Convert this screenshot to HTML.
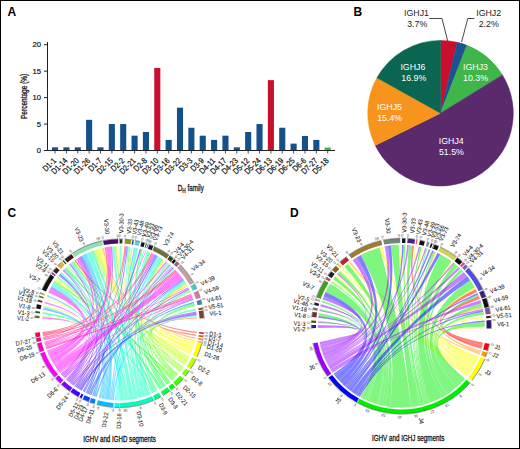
<!DOCTYPE html>
<html><head><meta charset="utf-8"><style>
*{margin:0;padding:0}
html,body{width:520px;height:449px;overflow:hidden;background:#fff}
svg{position:absolute;left:0;top:0}
text{font-family:"Liberation Sans",sans-serif}
.pn{font-weight:bold;font-size:12px;fill:#000}
.xl{font-size:8.3px;fill:#111;stroke:#111;stroke-width:0.22px}
.yl{font-size:7.7px;fill:#111;stroke:#111;stroke-width:0.2px}
.yt{font-size:8.7px;fill:#111;stroke:#111;stroke-width:0.3px}
.xt{font-size:9.2px;fill:#111;stroke:#111;stroke-width:0.3px}
.sub{font-size:7px}
.pl{font-size:8.8px}
.cl{font-size:6.0px;fill:#111;stroke:#111;stroke-width:0.05px}
.ct{font-size:8.8px;fill:#111;stroke:#111;stroke-width:0.3px}
.tk{font-size:3.7px;fill:#333}
</style></head><body><svg width="520" height="449" viewBox="0 0 520 449">
<text x="7.6" y="15.9" class="pn">A</text>
<text x="353.6" y="15.9" class="pn">B</text>
<text x="7.6" y="217.4" class="pn">C</text>
<text x="290" y="217.4" class="pn">D</text>
<rect x="52" y="147.33" width="6.1" height="3.17" fill="#14508a"/>
<line x1="55.05" y1="150.5" x2="55.05" y2="153.5" stroke="#222" stroke-width="0.8"/>
<text transform="translate(56.75,161.3) rotate(-45) scale(0.85,1)" text-anchor="end" class="xl">D1-1</text>
<rect x="63.36" y="147.33" width="6.1" height="3.17" fill="#14508a"/>
<line x1="66.41" y1="150.5" x2="66.41" y2="153.5" stroke="#222" stroke-width="0.8"/>
<text transform="translate(68.11,161.3) rotate(-45) scale(0.85,1)" text-anchor="end" class="xl">D1-14</text>
<rect x="74.72" y="147.33" width="6.1" height="3.17" fill="#14508a"/>
<line x1="77.77" y1="150.5" x2="77.77" y2="153.5" stroke="#222" stroke-width="0.8"/>
<text transform="translate(79.47,161.3) rotate(-45) scale(0.85,1)" text-anchor="end" class="xl">D1-20</text>
<rect x="86.08" y="119.82" width="6.1" height="30.68" fill="#14508a"/>
<line x1="89.13" y1="150.5" x2="89.13" y2="153.5" stroke="#222" stroke-width="0.8"/>
<text transform="translate(90.83,161.3) rotate(-45) scale(0.85,1)" text-anchor="end" class="xl">D1-26</text>
<rect x="97.44" y="147.33" width="6.1" height="3.17" fill="#14508a"/>
<line x1="100.49" y1="150.5" x2="100.49" y2="153.5" stroke="#222" stroke-width="0.8"/>
<text transform="translate(102.19,161.3) rotate(-45) scale(0.85,1)" text-anchor="end" class="xl">D1-7</text>
<rect x="108.8" y="124.05" width="6.1" height="26.45" fill="#14508a"/>
<line x1="111.85" y1="150.5" x2="111.85" y2="153.5" stroke="#222" stroke-width="0.8"/>
<text transform="translate(113.55,161.3) rotate(-45) scale(0.85,1)" text-anchor="end" class="xl">D2-15</text>
<rect x="120.16" y="124.05" width="6.1" height="26.45" fill="#14508a"/>
<line x1="123.21" y1="150.5" x2="123.21" y2="153.5" stroke="#222" stroke-width="0.8"/>
<text transform="translate(124.91,161.3) rotate(-45) scale(0.85,1)" text-anchor="end" class="xl">D2-2</text>
<rect x="131.52" y="135.69" width="6.1" height="14.81" fill="#14508a"/>
<line x1="134.57" y1="150.5" x2="134.57" y2="153.5" stroke="#222" stroke-width="0.8"/>
<text transform="translate(136.27,161.3) rotate(-45) scale(0.85,1)" text-anchor="end" class="xl">D2-21</text>
<rect x="142.88" y="131.99" width="6.1" height="18.52" fill="#14508a"/>
<line x1="145.93" y1="150.5" x2="145.93" y2="153.5" stroke="#222" stroke-width="0.8"/>
<text transform="translate(147.63,161.3) rotate(-45) scale(0.85,1)" text-anchor="end" class="xl">D2-8</text>
<rect x="154.24" y="67.98" width="6.1" height="82.52" fill="#c8102e"/>
<line x1="157.29" y1="150.5" x2="157.29" y2="153.5" stroke="#222" stroke-width="0.8"/>
<text transform="translate(158.99,161.3) rotate(-45) scale(0.85,1)" text-anchor="end" class="xl">D3-10</text>
<rect x="165.6" y="139.92" width="6.1" height="10.58" fill="#14508a"/>
<line x1="168.65" y1="150.5" x2="168.65" y2="153.5" stroke="#222" stroke-width="0.8"/>
<text transform="translate(170.35,161.3) rotate(-45) scale(0.85,1)" text-anchor="end" class="xl">D3-16</text>
<rect x="176.96" y="107.65" width="6.1" height="42.85" fill="#14508a"/>
<line x1="180.01" y1="150.5" x2="180.01" y2="153.5" stroke="#222" stroke-width="0.8"/>
<text transform="translate(181.71,161.3) rotate(-45) scale(0.85,1)" text-anchor="end" class="xl">D3-22</text>
<rect x="188.32" y="127.75" width="6.1" height="22.75" fill="#14508a"/>
<line x1="191.37" y1="150.5" x2="191.37" y2="153.5" stroke="#222" stroke-width="0.8"/>
<text transform="translate(193.07,161.3) rotate(-45) scale(0.85,1)" text-anchor="end" class="xl">D3-3</text>
<rect x="199.68" y="135.69" width="6.1" height="14.81" fill="#14508a"/>
<line x1="202.73" y1="150.5" x2="202.73" y2="153.5" stroke="#222" stroke-width="0.8"/>
<text transform="translate(204.43,161.3) rotate(-45) scale(0.85,1)" text-anchor="end" class="xl">D3-9</text>
<rect x="211.04" y="139.92" width="6.1" height="10.58" fill="#14508a"/>
<line x1="214.09" y1="150.5" x2="214.09" y2="153.5" stroke="#222" stroke-width="0.8"/>
<text transform="translate(215.79,161.3) rotate(-45) scale(0.85,1)" text-anchor="end" class="xl">D4-11</text>
<rect x="222.4" y="135.69" width="6.1" height="14.81" fill="#14508a"/>
<line x1="225.45" y1="150.5" x2="225.45" y2="153.5" stroke="#222" stroke-width="0.8"/>
<text transform="translate(227.15,161.3) rotate(-45) scale(0.85,1)" text-anchor="end" class="xl">D4-17</text>
<rect x="233.76" y="147.33" width="6.1" height="3.17" fill="#14508a"/>
<line x1="236.81" y1="150.5" x2="236.81" y2="153.5" stroke="#222" stroke-width="0.8"/>
<text transform="translate(238.51,161.3) rotate(-45) scale(0.85,1)" text-anchor="end" class="xl">D4-23</text>
<rect x="245.12" y="131.99" width="6.1" height="18.52" fill="#14508a"/>
<line x1="248.17" y1="150.5" x2="248.17" y2="153.5" stroke="#222" stroke-width="0.8"/>
<text transform="translate(249.87,161.3) rotate(-45) scale(0.85,1)" text-anchor="end" class="xl">D5-12</text>
<rect x="256.48" y="124.05" width="6.1" height="26.45" fill="#14508a"/>
<line x1="259.53" y1="150.5" x2="259.53" y2="153.5" stroke="#222" stroke-width="0.8"/>
<text transform="translate(261.23,161.3) rotate(-45) scale(0.85,1)" text-anchor="end" class="xl">D5-24</text>
<rect x="267.84" y="80.14" width="6.1" height="70.36" fill="#c8102e"/>
<line x1="270.89" y1="150.5" x2="270.89" y2="153.5" stroke="#222" stroke-width="0.8"/>
<text transform="translate(272.59,161.3) rotate(-45) scale(0.85,1)" text-anchor="end" class="xl">D6-13</text>
<rect x="279.2" y="127.75" width="6.1" height="22.75" fill="#14508a"/>
<line x1="282.25" y1="150.5" x2="282.25" y2="153.5" stroke="#222" stroke-width="0.8"/>
<text transform="translate(283.95,161.3) rotate(-45) scale(0.85,1)" text-anchor="end" class="xl">D6-19</text>
<rect x="290.56" y="143.62" width="6.1" height="6.88" fill="#14508a"/>
<line x1="293.61" y1="150.5" x2="293.61" y2="153.5" stroke="#222" stroke-width="0.8"/>
<text transform="translate(295.31,161.3) rotate(-45) scale(0.85,1)" text-anchor="end" class="xl">D6-25</text>
<rect x="301.92" y="135.95" width="6.1" height="14.55" fill="#14508a"/>
<line x1="304.97" y1="150.5" x2="304.97" y2="153.5" stroke="#222" stroke-width="0.8"/>
<text transform="translate(306.67,161.3) rotate(-45) scale(0.85,1)" text-anchor="end" class="xl">D6-6</text>
<rect x="313.28" y="139.92" width="6.1" height="10.58" fill="#14508a"/>
<line x1="316.33" y1="150.5" x2="316.33" y2="153.5" stroke="#222" stroke-width="0.8"/>
<text transform="translate(318.03,161.3) rotate(-45) scale(0.85,1)" text-anchor="end" class="xl">D7-27</text>
<rect x="324.64" y="147.59" width="6.1" height="2.91" fill="#3cb54a"/>
<line x1="327.69" y1="150.5" x2="327.69" y2="153.5" stroke="#222" stroke-width="0.8"/>
<text transform="translate(329.39,161.3) rotate(-45) scale(0.85,1)" text-anchor="end" class="xl">D5-18</text>
<line x1="47.5" y1="42" x2="47.5" y2="151.0" stroke="#222" stroke-width="1"/>
<line x1="46.7" y1="150.5" x2="335" y2="150.5" stroke="#222" stroke-width="1"/>
<line x1="44" y1="150.5" x2="47.5" y2="150.5" stroke="#222" stroke-width="1"/>
<text x="41" y="153.2" text-anchor="end" class="yl">0</text>
<line x1="44" y1="124.05" x2="47.5" y2="124.05" stroke="#222" stroke-width="1"/>
<text x="41" y="126.75" text-anchor="end" class="yl">5</text>
<line x1="44" y1="97.6" x2="47.5" y2="97.6" stroke="#222" stroke-width="1"/>
<text x="41" y="100.3" text-anchor="end" class="yl">10</text>
<line x1="44" y1="71.15" x2="47.5" y2="71.15" stroke="#222" stroke-width="1"/>
<text x="41" y="73.85" text-anchor="end" class="yl">15</text>
<line x1="44" y1="44.7" x2="47.5" y2="44.7" stroke="#222" stroke-width="1"/>
<text x="41" y="47.4" text-anchor="end" class="yl">20</text>
<text transform="translate(26.5,96.35) rotate(-90) scale(0.75,1)" text-anchor="middle" class="yt">Percentage (%)</text>
<text transform="translate(177.8,190.7) scale(0.68,1)" class="xt">D<tspan class="sub" dy="1.8">H</tspan><tspan dy="-1.8"> family</tspan></text>
<path d="M440.5,113.2L440.5,40.4A72.8,72.8 0 0 1 457.27,42.36Z" fill="#c8102e" stroke="#c8102e" stroke-width="0.5" stroke-linejoin="round"/>
<path d="M440.5,113.2L457.27,42.36A72.8,72.8 0 0 1 466.87,45.35Z" fill="#1b5290" stroke="#1b5290" stroke-width="0.5" stroke-linejoin="round"/>
<path d="M440.5,113.2L466.87,45.35A72.8,72.8 0 0 1 502.45,74.97Z" fill="#3fb54a" stroke="#3fb54a" stroke-width="0.5" stroke-linejoin="round"/>
<path d="M440.5,113.2L502.45,74.97A72.8,72.8 0 1 1 375.22,145.43Z" fill="#5b2a6c" stroke="#5b2a6c" stroke-width="0.5" stroke-linejoin="round"/>
<path d="M440.5,113.2L375.22,145.43A72.8,72.8 0 0 1 376.93,77.73Z" fill="#f7941d" stroke="#f7941d" stroke-width="0.5" stroke-linejoin="round"/>
<path d="M440.5,113.2L376.93,77.73A72.8,72.8 0 0 1 440.5,40.4Z" fill="#0a6650" stroke="#0a6650" stroke-width="0.5" stroke-linejoin="round"/>
<text x="416.5" y="15.7" text-anchor="middle" class="pl" fill="#222">IGHJ1</text>
<text x="417.2" y="26.5" text-anchor="middle" class="pl" fill="#222">3.7%</text>
<text x="488.7" y="15.7" text-anchor="middle" class="pl" fill="#222">IGHJ2</text>
<text x="488.7" y="26.5" text-anchor="middle" class="pl" fill="#222">2.2%</text>
<text x="412.9" y="70" text-anchor="middle" class="pl" fill="#fff">IGHJ6</text>
<text x="413.8" y="80.5" text-anchor="middle" class="pl" fill="#fff">16.9%</text>
<text x="475.5" y="70" text-anchor="middle" class="pl" fill="#fff">IGHJ3</text>
<text x="475.5" y="80.5" text-anchor="middle" class="pl" fill="#fff">10.3%</text>
<text x="389.5" y="110" text-anchor="middle" class="pl" fill="#fff">IGHJ5</text>
<text x="389.7" y="120.5" text-anchor="middle" class="pl" fill="#fff">15.4%</text>
<text x="451.3" y="143.8" text-anchor="middle" class="pl" fill="#fff">IGHJ4</text>
<text x="451.4" y="155" text-anchor="middle" class="pl" fill="#fff">51.5%</text>
<polyline points="429.3,18.5 442,18.5 447.7,41" fill="none" stroke="#333" stroke-width="0.9"/>
<polyline points="474.3,18.5 467.8,18.5 461.6,42" fill="none" stroke="#333" stroke-width="0.9"/>
<g fill-opacity="0.5" stroke="#fff" stroke-width="0.25" stroke-opacity="0.25">
<path d="M74.35,260.52A77.59,77.2 0 0 1 75.44,259.75Q119.5,323.3 196.62,331.77A77.59,77.2 0 0 1 196.46,333.11Q119.5,323.3 74.35,260.52Z" fill="#FF0000"/>
<path d="M196.86,317.4A77.59,77.2 0 0 1 196.94,318.59Q119.5,323.3 196.25,334.58A77.59,77.2 0 0 1 196.02,336.04Q119.5,323.3 196.86,317.4Z" fill="#FF4000"/>
<path d="M102.23,248.04A77.59,77.2 0 0 1 103.5,247.76Q119.5,323.3 195.76,337.5A77.59,77.2 0 0 1 195.47,338.96Q119.5,323.3 102.23,248.04Z" fill="#FF8000"/>
<path d="M186.91,285.09A77.59,77.2 0 0 1 187.55,286.23Q119.5,323.3 195.22,340.14A77.59,77.2 0 0 1 194.88,341.58Q119.5,323.3 186.91,285.09Z" fill="#FFBF00"/>
<path d="M45.75,299.32A77.59,77.2 0 0 1 46.23,297.91Q119.5,323.3 191.11,353.02A77.59,77.2 0 0 1 190.6,354.21Q119.5,323.3 45.75,299.32Z" fill="#FFFF00"/>
<path d="M54.92,280.52A77.59,77.2 0 0 1 56.34,278.47Q119.5,323.3 192.07,350.61A77.59,77.2 0 0 1 191.11,353.02Q119.5,323.3 54.92,280.52Z" fill="#FFFF00"/>
<path d="M98.45,249A77.59,77.2 0 0 1 102.23,248.04Q119.5,323.3 193.36,346.95A77.59,77.2 0 0 1 192.07,350.61Q119.5,323.3 98.45,249Z" fill="#FFFF00"/>
<path d="M117.01,246.14A77.59,77.2 0 0 1 118.28,246.11Q119.5,323.3 193.74,345.72A77.59,77.2 0 0 1 193.36,346.95Q119.5,323.3 117.01,246.14Z" fill="#FFFF00"/>
<path d="M163.92,260A77.59,77.2 0 0 1 164.99,260.76Q119.5,323.3 194.11,344.48A77.59,77.2 0 0 1 193.74,345.72Q119.5,323.3 163.92,260Z" fill="#FFFF00"/>
<path d="M186.26,283.96A77.59,77.2 0 0 1 186.91,285.09Q119.5,323.3 194.46,343.23A77.59,77.2 0 0 1 194.11,344.48Q119.5,323.3 186.26,283.96Z" fill="#FFFF00"/>
<path d="M196.76,316.21A77.59,77.2 0 0 1 196.86,317.4Q119.5,323.3 194.78,341.98A77.59,77.2 0 0 1 194.46,343.23Q119.5,323.3 196.76,316.21Z" fill="#FFFF00"/>
<path d="M43.65,307.07A77.59,77.2 0 0 1 43.93,305.8Q119.5,323.3 185.4,364.04A77.59,77.2 0 0 1 184.72,365.12Q119.5,323.3 43.65,307.07Z" fill="#BFFF00"/>
<path d="M73.28,261.3A77.59,77.2 0 0 1 74.35,260.52Q119.5,323.3 186.07,362.95A77.59,77.2 0 0 1 185.4,364.04Q119.5,323.3 73.28,261.3Z" fill="#BFFF00"/>
<path d="M94.72,250.14A77.59,77.2 0 0 1 98.45,249Q119.5,323.3 187.97,359.6A77.59,77.2 0 0 1 186.07,362.95Q119.5,323.3 94.72,250.14Z" fill="#BFFF00"/>
<path d="M115.75,246.19A77.59,77.2 0 0 1 117.01,246.14Q119.5,323.3 188.57,358.47A77.59,77.2 0 0 1 187.97,359.6Q119.5,323.3 115.75,246.19Z" fill="#BFFF00"/>
<path d="M120.85,246.11A77.59,77.2 0 0 1 122.21,246.15Q119.5,323.3 189.14,357.32A77.59,77.2 0 0 1 188.57,358.47Q119.5,323.3 120.85,246.11Z" fill="#BFFF00"/>
<path d="M162.83,259.26A77.59,77.2 0 0 1 163.92,260Q119.5,323.3 189.7,356.17A77.59,77.2 0 0 1 189.14,357.32Q119.5,323.3 162.83,259.26Z" fill="#BFFF00"/>
<path d="M67.18,266.29A77.59,77.2 0 0 1 68.19,265.39Q119.5,323.3 180.76,370.67A77.59,77.2 0 0 1 179.8,371.88Q119.5,323.3 67.18,266.29Z" fill="#80FF00"/>
<path d="M93.49,250.57A77.59,77.2 0 0 1 94.72,250.14Q119.5,323.3 181.71,369.44A77.59,77.2 0 0 1 180.76,370.67Q119.5,323.3 93.49,250.57Z" fill="#80FF00"/>
<path d="M131.24,246.99A77.59,77.2 0 0 1 132.71,247.23Q119.5,323.3 182.62,368.19A77.59,77.2 0 0 1 181.71,369.44Q119.5,323.3 131.24,246.99Z" fill="#80FF00"/>
<path d="M167.97,263.02A77.59,77.2 0 0 1 169.06,263.9Q119.5,323.3 183.52,366.92A77.59,77.2 0 0 1 182.62,368.19Q119.5,323.3 167.97,263.02Z" fill="#80FF00"/>
<path d="M42.15,317.31A77.59,77.2 0 0 1 42.25,316.17Q119.5,323.3 172.41,379.76A77.59,77.2 0 0 1 171.42,380.67Q119.5,323.3 42.15,317.31Z" fill="#40FF00"/>
<path d="M53.57,282.61A77.59,77.2 0 0 1 54.92,280.52Q119.5,323.3 174.36,377.89A77.59,77.2 0 0 1 172.41,379.76Q119.5,323.3 53.57,282.61Z" fill="#40FF00"/>
<path d="M114.48,246.26A77.59,77.2 0 0 1 115.75,246.19Q119.5,323.3 175.31,376.93A77.59,77.2 0 0 1 174.36,377.89Q119.5,323.3 114.48,246.26Z" fill="#40FF00"/>
<path d="M129.12,246.7A77.59,77.2 0 0 1 130.3,246.85Q119.5,323.3 176.24,375.95A77.59,77.2 0 0 1 175.31,376.93Q119.5,323.3 129.12,246.7Z" fill="#40FF00"/>
<path d="M185.58,282.84A77.59,77.2 0 0 1 186.26,283.96Q119.5,323.3 177.16,374.96A77.59,77.2 0 0 1 176.24,375.95Q119.5,323.3 185.58,282.84Z" fill="#40FF00"/>
<path d="M189.83,290.7A77.59,77.2 0 0 1 190.38,291.9Q119.5,323.3 178.05,373.95A77.59,77.2 0 0 1 177.16,374.96Q119.5,323.3 189.83,290.7Z" fill="#40FF00"/>
<path d="M72.21,262.09A77.59,77.2 0 0 1 73.28,261.3Q119.5,323.3 168.12,383.46A77.59,77.2 0 0 1 166.95,384.38Q119.5,323.3 72.21,262.09Z" fill="#00FF00"/>
<path d="M141.21,249.18A77.59,77.2 0 0 1 142.7,249.63Q119.5,323.3 169.27,382.53A77.59,77.2 0 0 1 168.12,383.46Q119.5,323.3 141.21,249.18Z" fill="#00FF00"/>
<path d="M194.75,304.49A77.59,77.2 0 0 1 195.1,305.93Q119.5,323.3 170.4,381.56A77.59,77.2 0 0 1 169.27,382.53Q119.5,323.3 194.75,304.49Z" fill="#00FF00"/>
<path d="M64.54,268.81A77.59,77.2 0 0 1 66.49,266.93Q119.5,323.3 162.07,387.84A77.59,77.2 0 0 1 159.46,389.47Q119.5,323.3 64.54,268.81Z" fill="#00FF40"/>
<path d="M149.36,252.05A77.59,77.2 0 0 1 150.56,252.56Q119.5,323.3 163.36,386.98A77.59,77.2 0 0 1 162.07,387.84Q119.5,323.3 149.36,252.05Z" fill="#00FF40"/>
<path d="M161.73,258.54A77.59,77.2 0 0 1 162.83,259.26Q119.5,323.3 164.62,386.1A77.59,77.2 0 0 1 163.36,386.98Q119.5,323.3 161.73,258.54Z" fill="#00FF40"/>
<path d="M194.37,303.06A77.59,77.2 0 0 1 194.75,304.49Q119.5,323.3 165.87,385.2A77.59,77.2 0 0 1 164.62,386.1Q119.5,323.3 194.37,303.06Z" fill="#00FF40"/>
<path d="M42.49,313.89A77.59,77.2 0 0 1 42.75,312.02Q119.5,323.3 153.07,392.9A77.59,77.2 0 0 1 151.92,393.44Q119.5,323.3 42.49,313.89Z" fill="#00FF80"/>
<path d="M91.05,251.48A77.59,77.2 0 0 1 93.49,250.57Q119.5,323.3 155.35,391.76A77.59,77.2 0 0 1 153.07,392.9Q119.5,323.3 91.05,251.48Z" fill="#00FF80"/>
<path d="M148.15,251.55A77.59,77.2 0 0 1 149.36,252.05Q119.5,323.3 156.47,391.17A77.59,77.2 0 0 1 155.35,391.76Q119.5,323.3 148.15,251.55Z" fill="#00FF80"/>
<path d="M195.69,308.7A77.59,77.2 0 0 1 196.02,310.56Q119.5,323.3 157.59,390.56A77.59,77.2 0 0 1 156.47,391.17Q119.5,323.3 195.69,308.7Z" fill="#00FF80"/>
<path d="M51.67,285.83A77.59,77.2 0 0 1 53.57,282.61Q119.5,323.3 124.02,400.37A77.59,77.2 0 0 1 120.04,400.5Q119.5,323.3 51.67,285.83Z" fill="#00FFBF"/>
<path d="M56.89,277.71A77.59,77.2 0 0 1 57.86,276.41Q119.5,323.3 125.34,400.28A77.59,77.2 0 0 1 124.02,400.37Q119.5,323.3 56.89,277.71Z" fill="#00FFBF"/>
<path d="M60.02,273.73A77.59,77.2 0 0 1 61.57,271.94Q119.5,323.3 127.98,400.04A77.59,77.2 0 0 1 125.34,400.28Q119.5,323.3 60.02,273.73Z" fill="#00FFBF"/>
<path d="M71.17,262.91A77.59,77.2 0 0 1 72.21,262.09Q119.5,323.3 129.3,399.88A77.59,77.2 0 0 1 127.98,400.04Q119.5,323.3 71.17,262.91Z" fill="#00FFBF"/>
<path d="M86.28,253.53A77.59,77.2 0 0 1 91.05,251.48Q119.5,323.3 134.53,399.04A77.59,77.2 0 0 1 129.3,399.88Q119.5,323.3 86.28,253.53Z" fill="#00FFBF"/>
<path d="M111.95,246.47A77.59,77.2 0 0 1 114.48,246.26Q119.5,323.3 137.12,398.48A77.59,77.2 0 0 1 134.53,399.04Q119.5,323.3 111.95,246.47Z" fill="#00FFBF"/>
<path d="M119.5,246.1A77.59,77.2 0 0 1 120.85,246.11Q119.5,323.3 138.41,398.17A77.59,77.2 0 0 1 137.12,398.48Q119.5,323.3 119.5,246.1Z" fill="#00FFBF"/>
<path d="M127.93,246.56A77.59,77.2 0 0 1 129.12,246.7Q119.5,323.3 139.7,397.84A77.59,77.2 0 0 1 138.41,398.17Q119.5,323.3 127.93,246.56Z" fill="#00FFBF"/>
<path d="M135.37,247.73A77.59,77.2 0 0 1 138.27,248.39Q119.5,323.3 142.24,397.11A77.59,77.2 0 0 1 139.7,397.84Q119.5,323.3 135.37,247.73Z" fill="#00FFBF"/>
<path d="M143.73,249.96A77.59,77.2 0 0 1 144.76,250.31Q119.5,323.3 143.51,396.71A77.59,77.2 0 0 1 142.24,397.11Q119.5,323.3 143.73,249.96Z" fill="#00FFBF"/>
<path d="M159.49,257.14A77.59,77.2 0 0 1 161.73,258.54Q119.5,323.3 146.01,395.85A77.59,77.2 0 0 1 143.51,396.71Q119.5,323.3 159.49,257.14Z" fill="#00FFBF"/>
<path d="M173.65,268.02A77.59,77.2 0 0 1 174.46,268.81Q119.5,323.3 147.26,395.39A77.59,77.2 0 0 1 146.01,395.85Q119.5,323.3 173.65,268.02Z" fill="#00FFBF"/>
<path d="M184.17,280.64A77.59,77.2 0 0 1 185.58,282.84Q119.5,323.3 149.72,394.4A77.59,77.2 0 0 1 147.26,395.39Q119.5,323.3 184.17,280.64Z" fill="#00FFBF"/>
<path d="M189.26,289.52A77.59,77.2 0 0 1 189.83,290.7Q119.5,323.3 150.93,393.88A77.59,77.2 0 0 1 149.72,394.4Q119.5,323.3 189.26,289.52Z" fill="#00FFBF"/>
<path d="M146.92,251.08A77.59,77.2 0 0 1 148.15,251.55Q119.5,323.3 116.05,400.42A77.59,77.2 0 0 1 114.9,400.36Q119.5,323.3 146.92,251.08Z" fill="#00FFFF"/>
<path d="M158.35,256.48A77.59,77.2 0 0 1 159.49,257.14Q119.5,323.3 117.2,400.47A77.59,77.2 0 0 1 116.05,400.42Q119.5,323.3 158.35,256.48Z" fill="#00FFFF"/>
<path d="M166.87,262.16A77.59,77.2 0 0 1 167.97,263.02Q119.5,323.3 118.35,400.49A77.59,77.2 0 0 1 117.2,400.47Q119.5,323.3 166.87,262.16Z" fill="#00FFFF"/>
<path d="M170.5,265.12A77.59,77.2 0 0 1 171.42,265.93Q119.5,323.3 119.5,400.5A77.59,77.2 0 0 1 118.35,400.49Q119.5,323.3 170.5,265.12Z" fill="#00FFFF"/>
<path d="M43.38,308.35A77.59,77.2 0 0 1 43.65,307.07Q119.5,323.3 99.99,398.02A77.59,77.2 0 0 1 98.64,397.66Q119.5,323.3 43.38,308.35Z" fill="#00BFFF"/>
<path d="M46.78,296.39A77.59,77.2 0 0 1 47.31,295.01Q119.5,323.3 101.35,398.36A77.59,77.2 0 0 1 99.99,398.02Q119.5,323.3 46.78,296.39Z" fill="#00BFFF"/>
<path d="M51.07,286.92A77.59,77.2 0 0 1 51.67,285.83Q119.5,323.3 102.72,398.67A77.59,77.2 0 0 1 101.35,398.36Q119.5,323.3 51.07,286.92Z" fill="#00BFFF"/>
<path d="M63.6,269.77A77.59,77.2 0 0 1 64.54,268.81Q119.5,323.3 104.09,398.96A77.59,77.2 0 0 1 102.72,398.67Q119.5,323.3 63.6,269.77Z" fill="#00BFFF"/>
<path d="M70.13,263.74A77.59,77.2 0 0 1 71.17,262.91Q119.5,323.3 105.47,399.23A77.59,77.2 0 0 1 104.09,398.96Q119.5,323.3 70.13,263.74Z" fill="#00BFFF"/>
<path d="M82.8,255.29A77.59,77.2 0 0 1 86.28,253.53Q119.5,323.3 109.63,399.87A77.59,77.2 0 0 1 105.47,399.23Q119.5,323.3 82.8,255.29Z" fill="#00BFFF"/>
<path d="M133.91,247.44A77.59,77.2 0 0 1 135.37,247.73Q119.5,323.3 111.02,400.04A77.59,77.2 0 0 1 109.63,399.87Q119.5,323.3 133.91,247.44Z" fill="#00BFFF"/>
<path d="M157.2,255.83A77.59,77.2 0 0 1 158.35,256.48Q119.5,323.3 112.42,400.18A77.59,77.2 0 0 1 111.02,400.04Q119.5,323.3 157.2,255.83Z" fill="#00BFFF"/>
<path d="M196.64,315.03A77.59,77.2 0 0 1 196.76,316.21Q119.5,323.3 113.82,400.29A77.59,77.2 0 0 1 112.42,400.18Q119.5,323.3 196.64,315.03Z" fill="#00BFFF"/>
<path d="M43.14,309.63A77.59,77.2 0 0 1 43.38,308.35Q119.5,323.3 93.56,396.06A77.59,77.2 0 0 1 92.08,395.52Q119.5,323.3 43.14,309.63Z" fill="#0080FF"/>
<path d="M81.65,255.91A77.59,77.2 0 0 1 82.8,255.29Q119.5,323.3 95.05,396.57A77.59,77.2 0 0 1 93.56,396.06Q119.5,323.3 81.65,255.91Z" fill="#0080FF"/>
<path d="M183.43,279.56A77.59,77.2 0 0 1 184.17,280.64Q119.5,323.3 96.56,397.05A77.59,77.2 0 0 1 95.05,396.57Q119.5,323.3 183.43,279.56Z" fill="#0080FF"/>
<path d="M80.52,256.55A77.59,77.2 0 0 1 81.65,255.91Q119.5,323.3 87.11,393.45A77.59,77.2 0 0 1 85.73,392.8Q119.5,323.3 80.52,256.55Z" fill="#0040FF"/>
<path d="M126.75,246.44A77.59,77.2 0 0 1 127.93,246.56Q119.5,323.3 88.5,394.07A77.59,77.2 0 0 1 87.11,393.45Q119.5,323.3 126.75,246.44Z" fill="#0040FF"/>
<path d="M193.07,298.78A77.59,77.2 0 0 1 193.5,300.09Q119.5,323.3 89.9,394.66A77.59,77.2 0 0 1 88.5,394.07Q119.5,323.3 193.07,298.78Z" fill="#0040FF"/>
<path d="M193.97,301.63A77.59,77.2 0 0 1 194.37,303.06Q119.5,323.3 91.32,395.23A77.59,77.2 0 0 1 89.9,394.66Q119.5,323.3 193.97,301.63Z" fill="#0040FF"/>
<path d="M59.27,274.64A77.59,77.2 0 0 1 60.02,273.73Q119.5,323.3 83.73,391.81A77.59,77.2 0 0 1 82.84,391.34Q119.5,323.3 59.27,274.64Z" fill="#0000FF"/>
<path d="M156.04,255.2A77.59,77.2 0 0 1 157.2,255.83Q119.5,323.3 84.64,392.27A77.59,77.2 0 0 1 83.73,391.81Q119.5,323.3 156.04,255.2Z" fill="#0000FF"/>
<path d="M79.4,257.21A77.59,77.2 0 0 1 80.52,256.55Q119.5,323.3 75.72,387.04A77.59,77.2 0 0 1 74.56,386.23Q119.5,323.3 79.4,257.21Z" fill="#4000FF"/>
<path d="M139.71,248.77A77.59,77.2 0 0 1 141.21,249.18Q119.5,323.3 76.9,387.82A77.59,77.2 0 0 1 75.72,387.04Q119.5,323.3 139.71,248.77Z" fill="#4000FF"/>
<path d="M172.84,267.24A77.59,77.2 0 0 1 173.65,268.02Q119.5,323.3 78.1,388.59A77.59,77.2 0 0 1 76.9,387.82Q119.5,323.3 172.84,267.24Z" fill="#4000FF"/>
<path d="M182.68,278.49A77.59,77.2 0 0 1 183.43,279.56Q119.5,323.3 79.31,389.33A77.59,77.2 0 0 1 78.1,388.59Q119.5,323.3 182.68,278.49Z" fill="#4000FF"/>
<path d="M196.35,312.67A77.59,77.2 0 0 1 196.64,315.03Q119.5,323.3 81.77,390.76A77.59,77.2 0 0 1 79.31,389.33Q119.5,323.3 196.35,312.67Z" fill="#4000FF"/>
<path d="M50.49,288.02A77.59,77.2 0 0 1 51.07,286.92Q119.5,323.3 67.02,380.16A77.59,77.2 0 0 1 66.09,379.3Q119.5,323.3 50.49,288.02Z" fill="#8000FF"/>
<path d="M58.53,275.56A77.59,77.2 0 0 1 59.27,274.64Q119.5,323.3 67.96,381.01A77.59,77.2 0 0 1 67.02,380.16Q119.5,323.3 58.53,275.56Z" fill="#8000FF"/>
<path d="M69.11,264.6A77.59,77.2 0 0 1 70.13,263.74Q119.5,323.3 68.92,381.84A77.59,77.2 0 0 1 67.96,381.01Q119.5,323.3 69.11,264.6Z" fill="#8000FF"/>
<path d="M78.3,257.89A77.59,77.2 0 0 1 79.4,257.21Q119.5,323.3 69.89,382.65A77.59,77.2 0 0 1 68.92,381.84Q119.5,323.3 78.3,257.89Z" fill="#8000FF"/>
<path d="M110.69,246.6A77.59,77.2 0 0 1 111.95,246.47Q119.5,323.3 70.87,383.45A77.59,77.2 0 0 1 69.89,382.65Q119.5,323.3 110.69,246.6Z" fill="#8000FF"/>
<path d="M154.87,254.59A77.59,77.2 0 0 1 156.04,255.2Q119.5,323.3 71.87,384.24A77.59,77.2 0 0 1 70.87,383.45Q119.5,323.3 154.87,254.59Z" fill="#8000FF"/>
<path d="M188.68,288.34A77.59,77.2 0 0 1 189.26,289.52Q119.5,323.3 72.88,385.01A77.59,77.2 0 0 1 71.87,384.24Q119.5,323.3 188.68,288.34Z" fill="#8000FF"/>
<path d="M196.17,311.49A77.59,77.2 0 0 1 196.35,312.67Q119.5,323.3 73.9,385.76A77.59,77.2 0 0 1 72.88,385.01Q119.5,323.3 196.17,311.49Z" fill="#8000FF"/>
<path d="M49.93,289.13A77.59,77.2 0 0 1 50.49,288.02Q119.5,323.3 61.55,374.64A77.59,77.2 0 0 1 60.68,373.64Q119.5,323.3 49.93,289.13Z" fill="#BF00FF"/>
<path d="M62.66,270.75A77.59,77.2 0 0 1 63.6,269.77Q119.5,323.3 62.44,375.61A77.59,77.2 0 0 1 61.55,374.64Q119.5,323.3 62.66,270.75Z" fill="#BF00FF"/>
<path d="M125.56,246.34A77.59,77.2 0 0 1 126.75,246.44Q119.5,323.3 63.35,376.58A77.59,77.2 0 0 1 62.44,375.61Q119.5,323.3 125.56,246.34Z" fill="#BF00FF"/>
<path d="M153.69,254A77.59,77.2 0 0 1 154.87,254.59Q119.5,323.3 64.28,377.53A77.59,77.2 0 0 1 63.35,376.58Q119.5,323.3 153.69,254Z" fill="#BF00FF"/>
<path d="M169.58,264.33A77.59,77.2 0 0 1 170.5,265.12Q119.5,323.3 65.22,378.46A77.59,77.2 0 0 1 64.28,377.53Q119.5,323.3 169.58,264.33Z" fill="#BF00FF"/>
<path d="M42.07,318.45A77.59,77.2 0 0 1 42.15,317.31Q119.5,323.3 47.49,352.04A77.59,77.2 0 0 1 47.02,350.84Q119.5,323.3 42.07,318.45Z" fill="#FF00FF"/>
<path d="M44.56,303.32A77.59,77.2 0 0 1 44.99,301.76Q119.5,323.3 47.98,353.23A77.59,77.2 0 0 1 47.49,352.04Q119.5,323.3 44.56,303.32Z" fill="#FF00FF"/>
<path d="M48.35,292.52A77.59,77.2 0 0 1 49.93,289.13Q119.5,323.3 49.57,356.75A77.59,77.2 0 0 1 47.98,353.23Q119.5,323.3 48.35,292.52Z" fill="#FF00FF"/>
<path d="M76.11,259.3A77.59,77.2 0 0 1 78.3,257.89Q119.5,323.3 50.73,359.05A77.59,77.2 0 0 1 49.57,356.75Q119.5,323.3 76.11,259.3Z" fill="#FF00FF"/>
<path d="M105.68,247.34A77.59,77.2 0 0 1 110.69,246.6Q119.5,323.3 53.28,363.53A77.59,77.2 0 0 1 50.73,359.05Q119.5,323.3 105.68,247.34Z" fill="#FF00FF"/>
<path d="M165.76,261.32A77.59,77.2 0 0 1 166.87,262.16Q119.5,323.3 53.96,364.62A77.59,77.2 0 0 1 53.28,363.53Q119.5,323.3 165.76,261.32Z" fill="#FF00FF"/>
<path d="M172.02,266.47A77.59,77.2 0 0 1 172.84,267.24Q119.5,323.3 54.66,365.7A77.59,77.2 0 0 1 53.96,364.62Q119.5,323.3 172.02,266.47Z" fill="#FF00FF"/>
<path d="M177.79,272.35A77.59,77.2 0 0 1 182.68,278.49Q119.5,323.3 59.24,371.93A77.59,77.2 0 0 1 54.66,365.7Q119.5,323.3 177.79,272.35Z" fill="#FF00FF"/>
<path d="M192.62,297.48A77.59,77.2 0 0 1 193.07,298.78Q119.5,323.3 60.07,372.92A77.59,77.2 0 0 1 59.24,371.93Q119.5,323.3 192.62,297.48Z" fill="#FF00FF"/>
<path d="M145.53,250.57A77.59,77.2 0 0 1 146.16,250.8Q119.5,323.3 44.49,343.04A77.59,77.2 0 0 1 44.15,341.71Q119.5,323.3 145.53,250.57Z" fill="#FF00BF"/>
<path d="M152.5,253.43A77.59,77.2 0 0 1 153.69,254Q119.5,323.3 44.86,344.36A77.59,77.2 0 0 1 44.49,343.04Q119.5,323.3 152.5,253.43Z" fill="#FF00BF"/>
<path d="M176.92,271.38A77.59,77.2 0 0 1 177.79,272.35Q119.5,323.3 45.25,345.68A77.59,77.2 0 0 1 44.86,344.36Q119.5,323.3 176.92,271.38Z" fill="#FF00BF"/>
<path d="M188.07,287.18A77.59,77.2 0 0 1 188.68,288.34Q119.5,323.3 45.66,346.99A77.59,77.2 0 0 1 45.25,345.68Q119.5,323.3 188.07,287.18Z" fill="#FF00BF"/>
<path d="M191.65,294.91A77.59,77.2 0 0 1 192.62,297.48Q119.5,323.3 46.55,349.58A77.59,77.2 0 0 1 45.66,346.99Q119.5,323.3 191.65,294.91Z" fill="#FF00BF"/>
<path d="M104.43,247.57A77.59,77.2 0 0 1 105.68,247.34Q119.5,323.3 43.35,338.07A77.59,77.2 0 0 1 43.12,336.84Q119.5,323.3 104.43,247.57Z" fill="#FF0080"/>
<path d="M176.03,270.42A77.59,77.2 0 0 1 176.92,271.38Q119.5,323.3 43.6,339.31A77.59,77.2 0 0 1 43.35,338.07Q119.5,323.3 176.03,270.42Z" fill="#FF0080"/>
<path d="M191.13,293.63A77.59,77.2 0 0 1 191.65,294.91Q119.5,323.3 43.87,340.53A77.59,77.2 0 0 1 43.6,339.31Q119.5,323.3 191.13,293.63Z" fill="#FF0080"/>
<path d="M124.37,246.25A77.59,77.2 0 0 1 125.56,246.34Q119.5,323.3 42.57,333.33A77.59,77.2 0 0 1 42.4,331.91Q119.5,323.3 124.37,246.25Z" fill="#FF0040"/>
<path d="M151.3,252.88A77.59,77.2 0 0 1 152.5,253.43Q119.5,323.3 42.77,334.76A77.59,77.2 0 0 1 42.57,333.33Q119.5,323.3 151.3,252.88Z" fill="#FF0040"/>
<path d="M175.12,269.48A77.59,77.2 0 0 1 176.03,270.42Q119.5,323.3 43,336.17A77.59,77.2 0 0 1 42.77,334.76Q119.5,323.3 175.12,269.48Z" fill="#FF0040"/>
</g>
<path d="M35.25,318.03A84.42,84 0 0 1 35.44,315.54L39.64,315.93A80.2,79.8 0 0 0 39.46,318.29Z" fill="#6b6b1a"/>
<path d="M35.71,313.06A84.42,84 0 0 1 35.99,311.03L40.16,311.64A80.2,79.8 0 0 0 39.9,313.57Z" fill="#1f5a4a"/>
<path d="M36.41,308.42A84.42,84 0 0 1 37.28,304.26L41.39,305.21A80.2,79.8 0 0 0 40.57,309.17Z" fill="#111111"/>
<path d="M37.96,301.56A84.42,84 0 0 1 38.43,299.86L42.49,301.04A80.2,79.8 0 0 0 42.03,302.65Z" fill="#8b1a1a"/>
<path d="M39.26,297.2A84.42,84 0 0 1 39.78,295.68L43.76,297.06A80.2,79.8 0 0 0 43.27,298.51Z" fill="#2a8a2a"/>
<path d="M40.37,294.02A84.42,84 0 0 1 40.95,292.51L44.88,294.05A80.2,79.8 0 0 0 44.33,295.48Z" fill="#b0a040"/>
<path d="M42.08,289.81A84.42,84 0 0 1 50.77,274.52L54.21,276.96A80.2,79.8 0 0 0 45.95,291.48Z" fill="#111111"/>
<path d="M51.38,273.69A84.42,84 0 0 1 52.44,272.28L55.79,274.83A80.2,79.8 0 0 0 54.78,276.17Z" fill="#8040a0"/>
<path d="M53.16,271.35A84.42,84 0 0 1 56.47,267.42L59.62,270.21A80.2,79.8 0 0 0 56.48,273.95Z" fill="#3a2020"/>
<path d="M57.66,266.12A84.42,84 0 0 1 61.82,261.97L64.7,265.03A80.2,79.8 0 0 0 60.75,268.98Z" fill="#e0b040"/>
<path d="M62.58,261.27A84.42,84 0 0 1 63.67,260.29L66.46,263.44A80.2,79.8 0 0 0 65.42,264.37Z" fill="#205030"/>
<path d="M64.67,259.43A84.42,84 0 0 1 71.56,254.16L73.96,257.61A80.2,79.8 0 0 0 67.41,262.62Z" fill="#3a1a20"/>
<path d="M72.29,253.66A84.42,84 0 0 1 102.09,241.11L102.96,245.21A80.2,79.8 0 0 0 74.65,257.14Z" fill="#90e0b0"/>
<path d="M103.1,240.9A84.42,84 0 0 1 118.17,239.31L118.24,243.51A80.2,79.8 0 0 0 103.92,245.02Z" fill="#4a0a70"/>
<path d="M119.5,239.3A84.42,84 0 0 1 122.45,239.35L122.3,243.55A80.2,79.8 0 0 0 119.5,243.5Z" fill="#3a3010"/>
<path d="M124.8,239.47A84.42,84 0 0 1 131.25,240.12L130.66,244.28A80.2,79.8 0 0 0 124.54,243.66Z" fill="#8a9a20"/>
<path d="M132.27,240.27A84.42,84 0 0 1 133.87,240.53L133.15,244.66A80.2,79.8 0 0 0 131.63,244.42Z" fill="#3a3a9a"/>
<path d="M135.17,240.76A84.42,84 0 0 1 139.92,241.8L138.9,245.87A80.2,79.8 0 0 0 134.39,244.89Z" fill="#60c8f0"/>
<path d="M141.49,242.2A84.42,84 0 0 1 144.75,243.14L143.48,247.15A80.2,79.8 0 0 0 140.39,246.26Z" fill="#111111"/>
<path d="M145.87,243.5A84.42,84 0 0 1 146.98,243.88L145.61,247.85A80.2,79.8 0 0 0 144.55,247.49Z" fill="#207050"/>
<path d="M147.82,244.17A84.42,84 0 0 1 148.51,244.42L147.06,248.36A80.2,79.8 0 0 0 146.4,248.12Z" fill="#303050"/>
<path d="M149.34,244.72A84.42,84 0 0 1 153.3,246.33L151.61,250.17A80.2,79.8 0 0 0 147.85,248.65Z" fill="#151545"/>
<path d="M154.11,246.68A84.42,84 0 0 1 169,255.26L166.53,258.66A80.2,79.8 0 0 0 152.38,250.51Z" fill="#70703a"/>
<path d="M169.83,255.86A84.42,84 0 0 1 173.42,258.67L170.73,261.9A80.2,79.8 0 0 0 167.32,259.24Z" fill="#304830"/>
<path d="M173.99,259.14A84.42,84 0 0 1 175.99,260.88L173.16,264A80.2,79.8 0 0 0 171.27,262.35Z" fill="#111111"/>
<path d="M176.64,261.47A84.42,84 0 0 1 179.3,264.01L176.31,266.97A80.2,79.8 0 0 0 173.78,264.56Z" fill="#9a6070"/>
<path d="M180.02,264.74A84.42,84 0 0 1 193.55,282.96L189.85,284.98A80.2,79.8 0 0 0 177,267.67Z" fill="#c0a0a8"/>
<path d="M194.11,283.99A84.42,84 0 0 1 196.62,289.13L192.77,290.84A80.2,79.8 0 0 0 190.38,285.96Z" fill="#40d0c8"/>
<path d="M197.44,291.02A84.42,84 0 0 1 200.01,298.04L195.99,299.3A80.2,79.8 0 0 0 193.54,292.63Z" fill="#d878a8"/>
<path d="M200.53,299.72A84.42,84 0 0 1 201.76,304.4L197.64,305.35A80.2,79.8 0 0 0 196.48,300.9Z" fill="#3a8aa0"/>
<path d="M202.4,307.42A84.42,84 0 0 1 202.76,309.44L198.6,310.13A80.2,79.8 0 0 0 198.25,308.21Z" fill="#8a5020"/>
<path d="M202.93,310.45A84.42,84 0 0 1 203.76,318.17L199.55,318.43A80.2,79.8 0 0 0 198.75,311.09Z" fill="#7a4030"/>
<path d="M203.41,332.52A84.42,84 0 0 1 203.24,333.97L199.05,333.44A80.2,79.8 0 0 0 199.21,332.06Z" fill="#FF0000"/>
<path d="M203.01,335.57A84.42,84 0 0 1 202.76,337.16L198.6,336.47A80.2,79.8 0 0 0 198.84,334.96Z" fill="#FF4000"/>
<path d="M202.48,338.75A84.42,84 0 0 1 202.17,340.33L198.03,339.48A80.2,79.8 0 0 0 198.33,337.98Z" fill="#FF8000"/>
<path d="M201.89,341.62A84.42,84 0 0 1 201.52,343.19L197.42,342.2A80.2,79.8 0 0 0 197.77,340.71Z" fill="#FFBF00"/>
<path d="M201.41,343.62A84.42,84 0 0 1 196.86,356.93L192.99,355.25A80.2,79.8 0 0 0 197.32,342.61Z" fill="#FFFF00"/>
<path d="M195.89,359.07A84.42,84 0 0 1 190.46,368.8L186.91,366.53A80.2,79.8 0 0 0 192.07,357.28Z" fill="#BFFF00"/>
<path d="M189.16,370.76A84.42,84 0 0 1 185.11,376.16L181.83,373.52A80.2,79.8 0 0 0 185.67,368.38Z" fill="#80FF00"/>
<path d="M183.21,378.41A84.42,84 0 0 1 175.99,385.72L173.16,382.6A80.2,79.8 0 0 0 180.03,375.65Z" fill="#40FF00"/>
<path d="M174.88,386.7A84.42,84 0 0 1 171.13,389.76L168.54,386.44A80.2,79.8 0 0 0 172.12,383.53Z" fill="#00FF00"/>
<path d="M169.95,390.65A84.42,84 0 0 1 162.98,395.3L160.81,391.7A80.2,79.8 0 0 0 167.43,387.28Z" fill="#00FF40"/>
<path d="M160.94,396.48A84.42,84 0 0 1 154.78,399.61L153.01,395.8A80.2,79.8 0 0 0 158.87,392.82Z" fill="#00FF80"/>
<path d="M153.7,400.1A84.42,84 0 0 1 120.09,407.3L120.06,403.1A80.2,79.8 0 0 0 151.99,396.26Z" fill="#00FFBF"/>
<path d="M119.5,407.3A84.42,84 0 0 1 114.49,407.15L114.74,402.96A80.2,79.8 0 0 0 119.5,403.1Z" fill="#00FFFF"/>
<path d="M113.32,407.07A84.42,84 0 0 1 96.8,404.21L97.93,400.16A80.2,79.8 0 0 0 113.63,402.89Z" fill="#00BFFF"/>
<path d="M94.54,403.54A84.42,84 0 0 1 89.66,401.88L91.15,397.95A80.2,79.8 0 0 0 95.78,399.53Z" fill="#0080FF"/>
<path d="M88.83,401.56A84.42,84 0 0 1 82.76,398.93L84.59,395.15A80.2,79.8 0 0 0 90.37,397.65Z" fill="#0040FF"/>
<path d="M81.57,398.34A84.42,84 0 0 1 79.61,397.33L81.6,393.63A80.2,79.8 0 0 0 83.47,394.59Z" fill="#0000FF"/>
<path d="M78.44,396.7A84.42,84 0 0 1 70.6,391.77L73.04,388.35A80.2,79.8 0 0 0 80.5,393.03Z" fill="#4000FF"/>
<path d="M69.88,391.26A84.42,84 0 0 1 61.39,384.23L64.29,381.18A80.2,79.8 0 0 0 72.36,387.86Z" fill="#8000FF"/>
<path d="M60.43,383.32A84.42,84 0 0 1 55.5,378.08L58.7,375.34A80.2,79.8 0 0 0 63.39,380.31Z" fill="#BF00FF"/>
<path d="M54.83,377.29A84.42,84 0 0 1 40.63,353.27L44.58,351.77A80.2,79.8 0 0 0 58.06,374.59Z" fill="#FF00FF"/>
<path d="M40.12,351.89A84.42,84 0 0 1 37.52,343.34L41.62,342.33A80.2,79.8 0 0 0 44.09,350.46Z" fill="#FF00BF"/>
<path d="M37.21,342.05A84.42,84 0 0 1 36.39,338.03L40.54,337.29A80.2,79.8 0 0 0 41.33,341.12Z" fill="#FF0080"/>
<path d="M36.26,337.31A84.42,84 0 0 1 35.61,332.66L39.8,332.2A80.2,79.8 0 0 0 40.42,336.61Z" fill="#FF0040"/>
<path d="M35.05,318.01A84.62,84.2 0 0 1 35.24,315.52" fill="none" stroke="#333" stroke-width="0.45"/>
<text transform="translate(32.04,317.82) rotate(-86.4)" dy="1.1" text-anchor="middle" class="tk">0</text>
<path d="M35.51,313.04A84.62,84.2 0 0 1 35.79,311" fill="none" stroke="#333" stroke-width="0.45"/>
<text transform="translate(32.52,312.67) rotate(-83)" dy="1.1" text-anchor="middle" class="tk">0</text>
<path d="M36.22,308.39A84.62,84.2 0 0 1 37.08,304.22" fill="none" stroke="#333" stroke-width="0.45"/>
<text transform="translate(33.25,307.86) rotate(-79.8)" dy="1.1" text-anchor="middle" class="tk">0</text>
<path d="M37.76,301.51A84.62,84.2 0 0 1 38.24,299.81" fill="none" stroke="#333" stroke-width="0.45"/>
<text transform="translate(34.85,300.73) rotate(-75)" dy="1.1" text-anchor="middle" class="tk">0</text>
<path d="M39.07,297.14A84.62,84.2 0 0 1 39.59,295.61" fill="none" stroke="#333" stroke-width="0.45"/>
<text transform="translate(36.2,296.21) rotate(-71.9)" dy="1.1" text-anchor="middle" class="tk">0</text>
<path d="M40.19,293.95A84.62,84.2 0 0 1 40.77,292.44" fill="none" stroke="#333" stroke-width="0.45"/>
<text transform="translate(37.36,292.9) rotate(-69.6)" dy="1.1" text-anchor="middle" class="tk">0</text>
<path d="M41.9,289.73A84.62,84.2 0 0 1 50.61,274.4" fill="none" stroke="#333" stroke-width="0.45"/>
<text transform="translate(39.13,288.53) rotate(-66.5)" dy="1.1" text-anchor="middle" class="tk">0</text>
<text transform="translate(46.34,275.3) rotate(-56.6)" dy="1.1" text-anchor="middle" class="tk">9</text>
<path d="M51.21,273.57A84.62,84.2 0 0 1 52.28,272.16" fill="none" stroke="#333" stroke-width="0.45"/>
<text transform="translate(48.78,271.8) rotate(-53.8)" dy="1.1" text-anchor="middle" class="tk">0</text>
<path d="M53,271.23A84.62,84.2 0 0 1 56.32,267.29" fill="none" stroke="#333" stroke-width="0.45"/>
<text transform="translate(50.63,269.37) rotate(-51.8)" dy="1.1" text-anchor="middle" class="tk">0</text>
<path d="M57.51,265.98A84.62,84.2 0 0 1 61.68,261.82" fill="none" stroke="#333" stroke-width="0.45"/>
<text transform="translate(55.3,263.94) rotate(-47.1)" dy="1.1" text-anchor="middle" class="tk">0</text>
<path d="M62.44,261.12A84.62,84.2 0 0 1 63.54,260.14" fill="none" stroke="#333" stroke-width="0.45"/>
<text transform="translate(60.41,258.91) rotate(-42.4)" dy="1.1" text-anchor="middle" class="tk">0</text>
<path d="M64.54,259.27A84.62,84.2 0 0 1 71.45,253.99" fill="none" stroke="#333" stroke-width="0.45"/>
<text transform="translate(62.58,256.99) rotate(-40.5)" dy="1.1" text-anchor="middle" class="tk">0</text>
<path d="M72.18,253.5A84.62,84.2 0 0 1 102.05,240.91" fill="none" stroke="#333" stroke-width="0.45"/>
<text transform="translate(70.49,251.01) rotate(-34)" dy="1.1" text-anchor="middle" class="tk">0</text>
<text transform="translate(83.72,243.7) rotate(-24.1)" dy="1.1" text-anchor="middle" class="tk">9</text>
<text transform="translate(98,238.76) rotate(-14.2)" dy="1.1" text-anchor="middle" class="tk">18</text>
<path d="M103.06,240.7A84.62,84.2 0 0 1 118.17,239.11" fill="none" stroke="#333" stroke-width="0.45"/>
<text transform="translate(102.48,237.76) rotate(-11.2)" dy="1.1" text-anchor="middle" class="tk">0</text>
<text transform="translate(117.51,236.12) rotate(-1.3)" dy="1.1" text-anchor="middle" class="tk">9</text>
<path d="M119.5,239.1A84.62,84.2 0 0 1 122.45,239.15" fill="none" stroke="#333" stroke-width="0.45"/>
<text transform="translate(119.5,236.1) rotate(0)" dy="1.1" text-anchor="middle" class="tk">0</text>
<path d="M124.81,239.27A84.62,84.2 0 0 1 131.28,239.92" fill="none" stroke="#333" stroke-width="0.45"/>
<text transform="translate(125,236.27) rotate(3.6)" dy="1.1" text-anchor="middle" class="tk">0</text>
<path d="M132.3,240.07A84.62,84.2 0 0 1 133.9,240.33" fill="none" stroke="#333" stroke-width="0.45"/>
<text transform="translate(132.76,237.1) rotate(8.7)" dy="1.1" text-anchor="middle" class="tk">0</text>
<path d="M135.21,240.56A84.62,84.2 0 0 1 139.97,241.6" fill="none" stroke="#333" stroke-width="0.45"/>
<text transform="translate(135.77,237.62) rotate(10.7)" dy="1.1" text-anchor="middle" class="tk">0</text>
<path d="M141.54,242.01A84.62,84.2 0 0 1 144.81,242.95" fill="none" stroke="#333" stroke-width="0.45"/>
<text transform="translate(142.33,239.11) rotate(15.1)" dy="1.1" text-anchor="middle" class="tk">0</text>
<path d="M145.93,243.31A84.62,84.2 0 0 1 147.05,243.69" fill="none" stroke="#333" stroke-width="0.45"/>
<text transform="translate(146.87,240.46) rotate(18.2)" dy="1.1" text-anchor="middle" class="tk">0</text>
<path d="M147.89,243.98A84.62,84.2 0 0 1 148.58,244.23" fill="none" stroke="#333" stroke-width="0.45"/>
<text transform="translate(148.9,241.15) rotate(19.6)" dy="1.1" text-anchor="middle" class="tk">0</text>
<path d="M149.41,244.54A84.62,84.2 0 0 1 153.38,246.14" fill="none" stroke="#333" stroke-width="0.45"/>
<text transform="translate(150.48,241.73) rotate(20.7)" dy="1.1" text-anchor="middle" class="tk">0</text>
<path d="M154.19,246.5A84.62,84.2 0 0 1 169.12,255.09" fill="none" stroke="#333" stroke-width="0.45"/>
<text transform="translate(155.42,243.76) rotate(24.2)" dy="1.1" text-anchor="middle" class="tk">0</text>
<text transform="translate(168.63,251.09) rotate(34.1)" dy="1.1" text-anchor="middle" class="tk">9</text>
<path d="M169.95,255.7A84.62,84.2 0 0 1 173.55,258.52" fill="none" stroke="#333" stroke-width="0.45"/>
<text transform="translate(171.75,253.29) rotate(36.6)" dy="1.1" text-anchor="middle" class="tk">0</text>
<path d="M174.12,258.99A84.62,84.2 0 0 1 176.12,260.73" fill="none" stroke="#333" stroke-width="0.45"/>
<text transform="translate(176.07,256.7) rotate(40.2)" dy="1.1" text-anchor="middle" class="tk">0</text>
<path d="M176.78,261.32A84.62,84.2 0 0 1 179.44,263.87" fill="none" stroke="#333" stroke-width="0.45"/>
<text transform="translate(178.82,259.11) rotate(42.6)" dy="1.1" text-anchor="middle" class="tk">0</text>
<path d="M180.17,264.6A84.62,84.2 0 0 1 193.72,282.87" fill="none" stroke="#333" stroke-width="0.45"/>
<text transform="translate(182.33,262.51) rotate(45.8)" dy="1.1" text-anchor="middle" class="tk">0</text>
<text transform="translate(191.9,274.16) rotate(55.7)" dy="1.1" text-anchor="middle" class="tk">9</text>
<path d="M194.29,283.9A84.62,84.2 0 0 1 196.81,289.05" fill="none" stroke="#333" stroke-width="0.45"/>
<text transform="translate(196.95,282.5) rotate(62.1)" dy="1.1" text-anchor="middle" class="tk">0</text>
<path d="M197.62,290.94A84.62,84.2 0 0 1 200.2,297.98" fill="none" stroke="#333" stroke-width="0.45"/>
<text transform="translate(200.41,289.79) rotate(67.4)" dy="1.1" text-anchor="middle" class="tk">0</text>
<path d="M200.72,299.67A84.62,84.2 0 0 1 201.95,304.36" fill="none" stroke="#333" stroke-width="0.45"/>
<text transform="translate(203.61,298.83) rotate(73.7)" dy="1.1" text-anchor="middle" class="tk">0</text>
<path d="M202.59,307.38A84.62,84.2 0 0 1 202.96,309.4" fill="none" stroke="#333" stroke-width="0.45"/>
<text transform="translate(205.55,306.81) rotate(79.1)" dy="1.1" text-anchor="middle" class="tk">0</text>
<path d="M203.12,310.42A84.62,84.2 0 0 1 203.96,318.16" fill="none" stroke="#333" stroke-width="0.45"/>
<text transform="translate(206.1,309.96) rotate(81.2)" dy="1.1" text-anchor="middle" class="tk">0</text>
<path d="M203.61,332.54A84.62,84.2 0 0 1 203.44,334" fill="none" stroke="#333" stroke-width="0.45"/>
<text transform="translate(206.61,332.87) rotate(96.3)" dy="1.1" text-anchor="middle" class="tk">0</text>
<path d="M203.21,335.6A84.62,84.2 0 0 1 202.96,337.2" fill="none" stroke="#333" stroke-width="0.45"/>
<text transform="translate(206.2,336.04) rotate(98.4)" dy="1.1" text-anchor="middle" class="tk">0</text>
<path d="M202.68,338.79A84.62,84.2 0 0 1 202.36,340.37" fill="none" stroke="#333" stroke-width="0.45"/>
<text transform="translate(205.64,339.34) rotate(100.6)" dy="1.1" text-anchor="middle" class="tk">0</text>
<path d="M202.08,341.67A84.62,84.2 0 0 1 201.71,343.24" fill="none" stroke="#333" stroke-width="0.45"/>
<text transform="translate(205.03,342.32) rotate(102.6)" dy="1.1" text-anchor="middle" class="tk">0</text>
<path d="M201.61,343.67A84.62,84.2 0 0 1 197.04,357.01" fill="none" stroke="#333" stroke-width="0.45"/>
<text transform="translate(204.53,344.4) rotate(104)" dy="1.1" text-anchor="middle" class="tk">0</text>
<path d="M196.07,359.15A84.62,84.2 0 0 1 190.63,368.91" fill="none" stroke="#333" stroke-width="0.45"/>
<text transform="translate(198.8,360.43) rotate(115.2)" dy="1.1" text-anchor="middle" class="tk">0</text>
<path d="M189.32,370.87A84.62,84.2 0 0 1 185.26,376.29" fill="none" stroke="#333" stroke-width="0.45"/>
<text transform="translate(191.81,372.57) rotate(124.4)" dy="1.1" text-anchor="middle" class="tk">0</text>
<path d="M183.36,378.54A84.62,84.2 0 0 1 176.12,385.87" fill="none" stroke="#333" stroke-width="0.45"/>
<text transform="translate(185.64,380.51) rotate(131)" dy="1.1" text-anchor="middle" class="tk">0</text>
<path d="M175.02,386.85A84.62,84.2 0 0 1 171.25,389.92" fill="none" stroke="#333" stroke-width="0.45"/>
<text transform="translate(176.99,389.11) rotate(139)" dy="1.1" text-anchor="middle" class="tk">0</text>
<path d="M170.07,390.81A84.62,84.2 0 0 1 163.08,395.47" fill="none" stroke="#333" stroke-width="0.45"/>
<text transform="translate(171.87,393.21) rotate(143.3)" dy="1.1" text-anchor="middle" class="tk">0</text>
<path d="M161.04,396.66A84.62,84.2 0 0 1 154.86,399.8" fill="none" stroke="#333" stroke-width="0.45"/>
<text transform="translate(162.52,399.27) rotate(150.6)" dy="1.1" text-anchor="middle" class="tk">0</text>
<path d="M153.78,400.28A84.62,84.2 0 0 1 120.09,407.5" fill="none" stroke="#333" stroke-width="0.45"/>
<text transform="translate(155,403.02) rotate(156.1)" dy="1.1" text-anchor="middle" class="tk">0</text>
<text transform="translate(140.7,407.91) rotate(166)" dy="1.1" text-anchor="middle" class="tk">9</text>
<text transform="translate(125.77,410.28) rotate(175.9)" dy="1.1" text-anchor="middle" class="tk">18</text>
<path d="M119.5,407.5A84.62,84.2 0 0 1 114.48,407.35" fill="none" stroke="#333" stroke-width="0.45"/>
<text transform="translate(119.5,410.5) rotate(180)" dy="1.1" text-anchor="middle" class="tk">0</text>
<path d="M113.3,407.27A84.62,84.2 0 0 1 96.74,404.4" fill="none" stroke="#333" stroke-width="0.45"/>
<text transform="translate(113.08,410.27) rotate(184.2)" dy="1.1" text-anchor="middle" class="tk">0</text>
<text transform="translate(98.15,407.87) rotate(194.1)" dy="1.1" text-anchor="middle" class="tk">9</text>
<path d="M94.48,403.73A84.62,84.2 0 0 1 89.59,402.06" fill="none" stroke="#333" stroke-width="0.45"/>
<text transform="translate(93.59,406.6) rotate(197.2)" dy="1.1" text-anchor="middle" class="tk">0</text>
<path d="M88.76,401.75A84.62,84.2 0 0 1 82.67,399.11" fill="none" stroke="#333" stroke-width="0.45"/>
<text transform="translate(87.67,404.54) rotate(201.3)" dy="1.1" text-anchor="middle" class="tk">0</text>
<path d="M81.48,398.52A84.62,84.2 0 0 1 79.51,397.51" fill="none" stroke="#333" stroke-width="0.45"/>
<text transform="translate(80.12,401.2) rotate(206.7)" dy="1.1" text-anchor="middle" class="tk">0</text>
<path d="M78.35,396.87A84.62,84.2 0 0 1 70.48,391.93" fill="none" stroke="#333" stroke-width="0.45"/>
<text transform="translate(76.88,399.49) rotate(209.1)" dy="1.1" text-anchor="middle" class="tk">0</text>
<path d="M69.76,391.42A84.62,84.2 0 0 1 61.25,384.38" fill="none" stroke="#333" stroke-width="0.45"/>
<text transform="translate(67.99,393.85) rotate(216)" dy="1.1" text-anchor="middle" class="tk">0</text>
<path d="M60.29,383.46A84.62,84.2 0 0 1 55.35,378.21" fill="none" stroke="#333" stroke-width="0.45"/>
<text transform="translate(58.18,385.6) rotate(224.4)" dy="1.1" text-anchor="middle" class="tk">0</text>
<path d="M54.68,377.42A84.62,84.2 0 0 1 40.45,353.34" fill="none" stroke="#333" stroke-width="0.45"/>
<text transform="translate(52.37,379.35) rotate(230)" dy="1.1" text-anchor="middle" class="tk">0</text>
<text transform="translate(43.68,367.03) rotate(239.9)" dy="1.1" text-anchor="middle" class="tk">9</text>
<path d="M39.93,351.96A84.62,84.2 0 0 1 37.32,343.38" fill="none" stroke="#333" stroke-width="0.45"/>
<text transform="translate(37.1,352.98) rotate(250.1)" dy="1.1" text-anchor="middle" class="tk">0</text>
<path d="M37.01,342.1A84.62,84.2 0 0 1 36.19,338.07" fill="none" stroke="#333" stroke-width="0.45"/>
<text transform="translate(34.08,342.77) rotate(257.1)" dy="1.1" text-anchor="middle" class="tk">0</text>
<path d="M36.06,337.34A84.62,84.2 0 0 1 35.41,332.69" fill="none" stroke="#333" stroke-width="0.45"/>
<text transform="translate(33.09,337.84) rotate(260.4)" dy="1.1" text-anchor="middle" class="tk">0</text>
<path d="M35.05,318.01L33.64,317.93M35.16,316.4L34.36,316.34M35.51,313.04L34.11,312.87M35.72,311.44L34.93,311.32M36.22,308.39L34.83,308.14M36.52,306.8L35.73,306.64M36.85,305.22L36.07,305.05M37.76,301.51L36.4,301.15M38.2,299.95L37.43,299.73M39.07,297.14L37.73,296.71M39.59,295.61L38.83,295.35M40.19,293.95L38.87,293.46M40.77,292.44L40.02,292.15M41.9,289.73L40.61,289.17M42.56,288.25L41.83,287.92M43.25,286.79L42.53,286.44M43.97,285.34L43.25,284.98M44.71,283.9L44,283.53M45.49,282.48L44.79,282.09M46.29,281.07L45.59,280.67M47.12,279.68L46.43,279.27M47.97,278.31L47.29,277.88M48.85,276.95L47.68,276.18M49.76,275.61L49.1,275.16M50.69,274.29L50.04,273.82M51.21,273.57L50.08,272.74M52.19,272.28L51.55,271.79M53,271.23L51.89,270.36M54.02,269.97L53.39,269.46M55.06,268.73L54.45,268.21M56.12,267.51L55.52,266.98M57.51,265.98L56.48,265.03M58.63,264.81L58.05,264.25M59.77,263.66L59.2,263.09M60.93,262.53L60.37,261.95M62.44,261.12L61.49,260.09M63.65,260.04L63.12,259.44M64.54,259.27L63.63,258.21M65.79,258.24L65.28,257.62M67.05,257.22L66.56,256.59M68.34,256.23L67.85,255.59M69.64,255.27L69.17,254.62M70.96,254.33L70.5,253.67M72.18,253.5L71.39,252.33M73.54,252.6L73.1,251.93M74.91,251.74L74.48,251.06M76.3,250.9L75.89,250.21M77.7,250.09L77.31,249.39M79.12,249.3L78.74,248.6M80.56,248.55L80.19,247.84M82.01,247.82L81.65,247.1M83.47,247.11L83.13,246.39M84.95,246.44L84.37,245.16M86.44,245.79L86.12,245.06M87.94,245.18L87.64,244.43M89.45,244.59L89.16,243.84M90.97,244.03L90.7,243.28M92.51,243.5L92.25,242.74M94.05,243L93.81,242.23M95.61,242.53L95.38,241.76M97.17,242.08L96.96,241.31M98.74,241.67L98.4,240.32M100.32,241.29L100.14,240.51M101.91,240.94L101.74,240.16M103.06,240.7L102.79,239.33M104.66,240.4L104.52,239.62M106.26,240.14L106.14,239.35M107.87,239.9L107.76,239.11M109.48,239.69L109.39,238.9M111.1,239.52L111.02,238.72M112.71,239.37L112.65,238.57M114.33,239.26L114.28,238.46M115.96,239.17L115.92,238.37M117.58,239.12L117.55,237.72M119.5,239.1L119.5,237.7M121.12,239.12L121.14,238.32M122.75,239.16L122.78,238.36M124.81,239.27L124.9,237.87M126.43,239.38L126.5,238.59M128.05,239.53L128.13,238.74M129.67,239.71L129.76,238.92M131.28,239.92L131.39,239.13M132.3,240.07L132.51,238.68M133.9,240.33L134.04,239.54M135.21,240.56L135.47,239.19M136.8,240.88L136.97,240.1M138.39,241.23L138.57,240.45M139.97,241.6L140.17,240.82M141.54,242.01L141.91,240.66M143.11,242.44L143.33,241.68M144.66,242.91L144.9,242.15M145.93,243.31L146.37,241.98M147.89,243.98L148.36,242.66M149.41,244.54L149.91,243.23M150.93,245.12L151.22,244.38M152.43,245.74L152.74,245M154.19,246.5L154.76,245.22M155.66,247.18L156.01,246.45M157.13,247.88L157.48,247.16M158.57,248.61L158.94,247.9M160.01,249.37L160.39,248.67M161.43,250.16L161.82,249.47M162.83,250.98L163.24,250.29M164.22,251.82L164.64,251.14M165.59,252.68L166.03,252.01M166.94,253.58L167.73,252.42M168.28,254.5L168.74,253.84M169.95,255.7L170.79,254.58M171.25,256.68L171.74,256.05M172.52,257.68L173.03,257.06M173.78,258.7L174.3,258.09M174.12,258.99L175.03,257.92M175.35,260.04L175.88,259.44M176.78,261.32L177.73,260.29M177.96,262.43L178.52,261.85M179.13,263.55L179.69,262.99M180.17,264.6L181.17,263.62M181.29,265.77L181.87,265.22M182.39,266.96L182.98,266.42M183.46,268.17L184.07,267.65M184.51,269.4L185.13,268.89M185.54,270.65L186.17,270.15M186.54,271.93L187.18,271.44M187.52,273.22L188.17,272.74M188.48,274.52L189.13,274.06M189.41,275.85L190.57,275.06M190.31,277.2L190.98,276.76M191.18,278.56L191.87,278.13M192.03,279.93L192.72,279.52M192.86,281.33L193.55,280.93M193.65,282.74L194.36,282.35M194.29,283.9L195.53,283.25M195.03,285.34L195.75,284.98M195.75,286.79L196.47,286.44M196.44,288.25L197.17,287.92M197.62,290.94L198.92,290.4M198.23,292.44L198.98,292.15M198.81,293.95L199.57,293.67M199.37,295.47L200.12,295.21M199.89,297L200.65,296.75M200.72,299.67L202.07,299.27M201.16,301.22L201.94,301.01M201.57,302.79L202.35,302.59M201.95,304.36L202.74,304.18M202.59,307.38L203.98,307.11M202.89,308.97L203.68,308.83M203.12,310.42L204.52,310.2M203.36,312.02L204.15,311.91M203.56,313.62L204.36,313.53M203.73,315.23L204.53,315.15M203.87,316.84L204.67,316.78M203.98,318.45L204.78,318.41M203.61,332.54L205.01,332.69M203.42,334.14L204.21,334.25M203.21,335.6L204.61,335.8M202.96,337.2L203.75,337.33M202.68,338.79L204.06,339.05M202.36,340.37L203.15,340.54M202.08,341.67L203.46,341.97M201.71,343.24L202.49,343.43M201.61,343.67L202.97,344.01M201.2,345.23L201.98,345.44M200.76,346.79L201.53,347.01M200.29,348.34L201.06,348.58M199.79,349.88L200.56,350.13M199.27,351.41L200.03,351.67M198.71,352.93L199.46,353.21M198.12,354.43L198.87,354.73M197.51,355.93L198.25,356.24M196.07,359.15L197.34,359.75M195.36,360.61L196.08,360.96M194.63,362.05L195.34,362.42M193.87,363.48L194.57,363.86M193.08,364.89L193.78,365.29M192.26,366.29L192.95,366.7M191.42,367.67L192.1,368.09M190.55,369.04L191.22,369.47M189.32,370.87L190.48,371.66M188.39,372.2L189.05,372.66M187.44,373.5L188.08,373.98M186.45,374.79L187.09,375.28M185.45,376.06L186.07,376.56M183.36,378.54L184.43,379.46M182.29,379.75L182.88,380.29M181.19,380.94L181.77,381.49M180.06,382.11L180.64,382.67M178.92,383.25L179.48,383.82M177.75,384.38L178.3,384.96M176.56,385.48L177.1,386.07M175.02,386.85L175.94,387.9M173.78,387.9L174.3,388.51M172.52,388.92L173.03,389.54M171.25,389.92L171.74,390.55M170.07,390.81L170.91,391.93M168.76,391.76L169.23,392.41M167.43,392.69L167.89,393.35M166.08,393.59L166.52,394.26M164.72,394.47L165.15,395.15M163.34,395.32L163.75,396.01M161.04,396.66L161.73,397.88M159.62,397.44L160,398.14M158.18,398.19L158.55,398.9M156.73,398.91L157.08,399.63M155.26,399.61L155.6,400.34M153.78,400.28L154.35,401.56M152.29,400.92L152.6,401.66M150.79,401.53L151.09,402.28M149.27,402.12L149.56,402.87M147.75,402.67L148.02,403.42M146.21,403.2L146.46,403.95M144.66,403.69L144.9,404.45M143.11,404.16L143.33,404.92M141.54,404.59L141.75,405.37M139.97,405L140.31,406.36M138.39,405.37L138.57,406.15M136.8,405.72L136.97,406.5M135.21,406.04L135.36,406.82M133.61,406.32L133.75,407.11M132.01,406.58L132.13,407.37M130.4,406.8L130.5,407.59M128.79,406.99L128.87,407.79M127.17,407.15L127.24,407.95M125.55,407.28L125.65,408.68M123.93,407.38L123.97,408.18M122.31,407.45L122.33,408.25M120.68,407.49L120.69,408.29M119.5,407.5L119.5,408.9M117.88,407.48L117.86,408.28M116.25,407.44L116.22,408.24M114.63,407.36L114.58,408.16M113.3,407.27L113.2,408.67M111.68,407.14L111.61,407.94M110.07,406.98L109.98,407.77M108.45,406.78L108.35,407.57M106.85,406.55L106.73,407.34M105.24,406.3L105.11,407.08M103.64,406.01L103.49,406.79M102.05,405.69L101.89,406.47M100.46,405.34L100.28,406.12M98.89,404.96L98.54,406.32M97.31,404.55L97.1,405.33M94.48,403.73L94.06,405.07M92.93,403.24L92.68,404M91.39,402.72L91.13,403.47M89.87,402.17L89.58,402.92M88.76,401.75L88.25,403.05M87.25,401.15L86.95,401.89M85.76,400.52L85.44,401.25M84.27,399.86L83.94,400.59M82.8,399.17L82.45,399.89M81.48,398.52L80.85,399.77M80.03,397.78L79.66,398.49M78.35,396.87L77.66,398.09M76.93,396.07L76.53,396.76M75.54,395.25L75.12,395.93M74.16,394.39L73.73,395.07M72.79,393.51L72.35,394.18M71.45,392.61L70.99,393.27M69.76,391.42L68.93,392.55M68.46,390.46L67.97,391.09M67.17,389.47L66.67,390.1M65.9,388.46L65.39,389.08M64.66,387.42L64.13,388.03M63.43,386.36L62.9,386.96M62.22,385.28L61.68,385.87M61.04,384.17L60.48,384.75M60.29,383.46L59.31,384.46M59.14,382.32L58.57,382.88M58.02,381.15L57.43,381.7M56.91,379.97L56.32,380.51M55.83,378.76L55.22,379.29M54.68,377.42L53.6,378.32M53.64,376.17L53.02,376.68M52.64,374.91L52,375.4M51.65,373.62L51.01,374.1M50.69,372.31L50.04,372.78M49.76,370.99L49.1,371.44M48.85,369.65L48.18,370.09M47.97,368.29L47.29,368.72M47.12,366.92L46.43,367.33M46.29,365.53L45.07,366.23M45.49,364.12L44.79,364.51M44.71,362.7L44,363.07M43.97,361.26L43.25,361.62M43.25,359.81L42.53,360.16M42.56,358.35L41.83,358.68M41.9,356.87L41.16,357.19M41.26,355.39L40.52,355.69M40.66,353.89L39.91,354.18M39.93,351.96L38.61,352.44M39.39,350.43L38.63,350.69M38.88,348.9L38.12,349.14M38.41,347.35L37.64,347.58M37.96,345.8L37.18,346.02M37.54,344.24L36.76,344.44M37.01,342.1L35.64,342.41M36.67,340.52L35.88,340.68M36.35,338.93L35.56,339.08M36.06,337.34L34.68,337.58M35.81,335.75L35.01,335.86M35.58,334.14L34.79,334.25M35.39,332.54L34.59,332.63" stroke="#444" stroke-width="0.35" fill="none"/>
<text transform="translate(29.32,316.32) rotate(4.45) scale(0.94,1)" dy="4.5" text-anchor="end" class="cl">V1-2</text>
<text transform="translate(29.87,311.24) rotate(7.7) scale(0.94,1)" dy="4.5" text-anchor="end" class="cl">V1-3</text>
<text transform="translate(30.91,305.13) rotate(11.65) scale(0.94,1)" dy="4.5" text-anchor="end" class="cl">V1-8</text>
<text transform="translate(32.38,299.1) rotate(15.6) scale(0.94,1)" dy="4.5" text-anchor="end" class="cl">V1-18</text>
<text transform="translate(33.75,294.67) rotate(18.55) scale(0.94,1)" dy="4.5" text-anchor="end" class="cl">V1-46</text>
<text transform="translate(35.09,290.97) rotate(21.05) scale(0.94,1)" dy="4.5" text-anchor="end" class="cl">V2-5</text>
<text transform="translate(40.78,278.98) rotate(29.5) scale(0.94,1)" dy="4.5" text-anchor="end" class="cl">V3-7</text>
<text transform="translate(47.07,269.39) rotate(36.8) scale(0.94,1)" dy="4.5" text-anchor="end" class="cl">V3-9</text>
<text transform="translate(50.16,265.51) rotate(39.95) scale(0.94,1)" dy="4.5" text-anchor="end" class="cl">V3-11</text>
<text transform="translate(55.43,259.77) rotate(44.9) scale(0.94,1)" dy="4.5" text-anchor="end" class="cl">V3-15</text>
<text transform="translate(59.09,256.31) rotate(48.1) scale(0.94,1)" dy="4.5" text-anchor="end" class="cl">V3-20</text>
<text transform="translate(64.37,251.95) rotate(52.45) scale(0.94,1)" dy="4.5" text-anchor="end" class="cl">V3-21</text>
<text transform="translate(84.23,240.42) rotate(67.05) scale(0.94,1)" dy="4.5" text-anchor="end" class="cl">V3-23</text>
<text transform="translate(109.97,233.8) rotate(83.95) scale(0.94,1)" dy="4.5" text-anchor="end" class="cl">V3-30</text>
<text transform="translate(121.08,233.31) rotate(-89) scale(0.94,1)" dy="2.2" text-anchor="start" class="cl">V3-30-3</text>
<text transform="translate(128.64,233.76) rotate(-84.2) scale(0.94,1)" dy="2.2" text-anchor="start" class="cl">V3-33</text>
<text transform="translate(134.04,234.47) rotate(-80.75) scale(0.94,1)" dy="2.2" text-anchor="start" class="cl">V3-43</text>
<text transform="translate(138.85,235.38) rotate(-77.65) scale(0.94,1)" dy="2.2" text-anchor="start" class="cl">V3-48</text>
<text transform="translate(143.62,236.56) rotate(-74.54) scale(0.94,1)" dy="2.2" text-anchor="start" class="cl">V3-49</text>
<text transform="translate(147.39,237.69) rotate(-72.04) scale(0.94,1)" dy="2.2" text-anchor="start" class="cl">V3-53</text>
<text transform="translate(151.12,238.98) rotate(-69.54) scale(0.94,1)" dy="2.2" text-anchor="start" class="cl">V3-66</text>
<text transform="translate(154.79,240.43) rotate(-67.04) scale(0.94,1)" dy="2.2" text-anchor="start" class="cl">V3-73</text>
<text transform="translate(164.79,245.4) rotate(-59.95) scale(0.94,1)" dy="2.2" text-anchor="start" class="cl">V3-74</text>
<text transform="translate(175.37,252.52) rotate(-51.85) scale(0.94,1)" dy="2.2" text-anchor="start" class="cl">V4-4</text>
<text transform="translate(178.96,255.48) rotate(-48.9) scale(0.94,1)" dy="2.2" text-anchor="start" class="cl">V4-30-4</text>
<text transform="translate(182.16,258.4) rotate(-46.15) scale(0.94,1)" dy="2.2" text-anchor="start" class="cl">V4-31</text>
<text transform="translate(192.26,269.83) rotate(-36.45) scale(0.94,1)" dy="2.2" text-anchor="start" class="cl">V4-34</text>
<text transform="translate(200.83,283.92) rotate(-25.95) scale(0.94,1)" dy="2.2" text-anchor="start" class="cl">V4-39</text>
<text transform="translate(204.47,292.44) rotate(-20.05) scale(0.94,1)" dy="2.2" text-anchor="start" class="cl">V4-59</text>
<text transform="translate(207.01,300.54) rotate(-14.65) scale(0.94,1)" dy="2.2" text-anchor="start" class="cl">V4-61</text>
<text transform="translate(208.52,307.36) rotate(-10.2) scale(0.94,1)" dy="2.2" text-anchor="start" class="cl">V5-51</text>
<text transform="translate(209.43,313.66) rotate(-6.15) scale(0.94,1)" dy="2.2" text-anchor="start" class="cl">V6-1</text>
<text transform="translate(209.37,333.49) rotate(6.5) scale(0.94,1)" dy="2.2" text-anchor="start" class="cl">D1-1</text>
<text transform="translate(208.76,337.84) rotate(9.3) scale(0.94,1)" dy="2.2" text-anchor="start" class="cl">D1-7</text>
<text transform="translate(207.94,342.17) rotate(12.1) scale(0.94,1)" dy="2.2" text-anchor="start" class="cl">D1-14</text>
<text transform="translate(206.91,346.44) rotate(14.9) scale(0.94,1)" dy="2.2" text-anchor="start" class="cl">D1-20</text>
<text transform="translate(204.76,353.34) rotate(19.5) scale(0.94,1)" dy="2.2" text-anchor="start" class="cl">D1-26</text>
<text transform="translate(198.61,366.93) rotate(29) scale(0.94,1)" dy="2.2" text-anchor="start" class="cl">D2-2</text>
<text transform="translate(192.02,377.09) rotate(36.7) scale(0.94,1)" dy="2.2" text-anchor="start" class="cl">D2-8</text>
<text transform="translate(184.01,386.38) rotate(44.5) scale(0.94,1)" dy="2.2" text-anchor="start" class="cl">D2-15</text>
<text transform="translate(176.85,392.9) rotate(50.65) scale(0.94,1)" dy="2.2" text-anchor="start" class="cl">D2-21</text>
<text transform="translate(169.88,398.04) rotate(56.15) scale(0.94,1)" dy="2.2" text-anchor="start" class="cl">D3-3</text>
<text transform="translate(160.63,403.45) rotate(62.95) scale(0.94,1)" dy="2.2" text-anchor="start" class="cl">D3-9</text>
<text transform="translate(138.54,411.28) rotate(77.85) scale(0.94,1)" dy="2.2" text-anchor="start" class="cl">D3-10</text>
<text transform="translate(116.82,413.26) rotate(271.7) scale(0.94,1)" dy="4.5" text-anchor="end" class="cl">D3-16</text>
<text transform="translate(103.95,411.96) rotate(279.9) scale(0.94,1)" dy="4.5" text-anchor="end" class="cl">D3-22</text>
<text transform="translate(90.2,408.45) rotate(288.9) scale(0.94,1)" dy="4.5" text-anchor="end" class="cl">D4-11</text>
<text transform="translate(83.87,406.02) rotate(293.2) scale(0.94,1)" dy="4.5" text-anchor="end" class="cl">D4-17</text>
<text transform="translate(79.85,404.19) rotate(296) scale(0.94,1)" dy="4.5" text-anchor="end" class="cl">D4-23</text>
<text transform="translate(75.24,401.79) rotate(299.3) scale(0.94,1)" dy="4.5" text-anchor="end" class="cl">D5-12</text>
<text transform="translate(64.81,394.99) rotate(307.2) scale(0.94,1)" dy="4.5" text-anchor="end" class="cl">D5-24</text>
<text transform="translate(55.1,386.49) rotate(315.4) scale(0.94,1)" dy="4.5" text-anchor="end" class="cl">D6-6</text>
<text transform="translate(43.13,371.52) rotate(327.6) scale(0.94,1)" dy="4.5" text-anchor="end" class="cl">D6-13</text>
<text transform="translate(33.67,351.71) rotate(341.6) scale(0.94,1)" dy="4.5" text-anchor="end" class="cl">D6-19</text>
<text transform="translate(31.59,344.46) rotate(346.4) scale(0.94,1)" dy="4.5" text-anchor="end" class="cl">D6-25</text>
<text transform="translate(30.37,338.62) rotate(350.2) scale(0.94,1)" dy="4.5" text-anchor="end" class="cl">D7-27</text>
<g fill-opacity="0.5" stroke="#fff" stroke-width="0.25" stroke-opacity="0.25">
<path d="M412.34,245.42A83.46,81.5 0 0 1 414.07,245.66Q401.3,326.2 481.77,347.79A83.46,81.5 0 0 1 481.4,349.07Q401.3,326.2 412.34,245.42Z" fill="#FF0000"/>
<path d="M475.53,288.95A83.46,81.5 0 0 1 477.06,292.01Q401.3,326.2 482.46,345.2A83.46,81.5 0 0 1 481.77,347.79Q401.3,326.2 475.53,288.95Z" fill="#FF0000"/>
<path d="M478.79,295.93A83.46,81.5 0 0 1 479.97,298.99Q401.3,326.2 483.05,342.59A83.46,81.5 0 0 1 482.46,345.2Q401.3,326.2 478.79,295.93Z" fill="#FF0000"/>
<path d="M349.01,262.68A83.46,81.5 0 0 1 350.26,261.72Q401.3,326.2 479.99,353.36A83.46,81.5 0 0 1 479.47,354.74Q401.3,326.2 349.01,262.68Z" fill="#FF9900"/>
<path d="M434.89,251.59A83.46,81.5 0 0 1 436.17,252.16Q401.3,326.2 480.47,351.97A83.46,81.5 0 0 1 479.99,353.36Q401.3,326.2 434.89,251.59Z" fill="#FF9900"/>
<path d="M482.31,306.59A83.46,81.5 0 0 1 482.71,308.28Q401.3,326.2 480.94,350.57A83.46,81.5 0 0 1 480.47,351.97Q401.3,326.2 482.31,306.59Z" fill="#FF9900"/>
<path d="M331.55,281.45A83.46,81.5 0 0 1 332.28,280.39Q401.3,326.2 467.92,375.29A83.46,81.5 0 0 1 466.88,376.6Q401.3,326.2 331.55,281.45Z" fill="#FFFF00"/>
<path d="M335.12,276.55A83.46,81.5 0 0 1 336.17,275.24Q401.3,326.2 468.93,373.96A83.46,81.5 0 0 1 467.92,375.29Q401.3,326.2 335.12,276.55Z" fill="#FFFF00"/>
<path d="M339.72,271.19A83.46,81.5 0 0 1 340.66,270.2Q401.3,326.2 469.91,372.6A83.46,81.5 0 0 1 468.93,373.96Q401.3,326.2 339.72,271.19Z" fill="#FFFF00"/>
<path d="M341.57,269.28A83.46,81.5 0 0 1 342.8,268.07Q401.3,326.2 470.86,371.23A83.46,81.5 0 0 1 469.91,372.6Q401.3,326.2 341.57,269.28Z" fill="#FFFF00"/>
<path d="M347.77,263.68A83.46,81.5 0 0 1 349.01,262.68Q401.3,326.2 471.78,369.84A83.46,81.5 0 0 1 470.86,371.23Q401.3,326.2 347.77,263.68Z" fill="#FFFF00"/>
<path d="M379.6,247.5A83.46,81.5 0 0 1 382.67,246.76Q401.3,326.2 473.54,367.01A83.46,81.5 0 0 1 471.78,369.84Q401.3,326.2 379.6,247.5Z" fill="#FFFF00"/>
<path d="M398.69,244.74A83.46,81.5 0 0 1 400.28,244.71Q401.3,326.2 474.37,365.57A83.46,81.5 0 0 1 473.54,367.01Q401.3,326.2 398.69,244.74Z" fill="#FFFF00"/>
<path d="M415.36,245.87A83.46,81.5 0 0 1 416.51,246.06Q401.3,326.2 475.18,364.11A83.46,81.5 0 0 1 474.37,365.57Q401.3,326.2 415.36,245.87Z" fill="#FFFF00"/>
<path d="M421.68,247.17A83.46,81.5 0 0 1 423.18,247.55Q401.3,326.2 475.95,362.64A83.46,81.5 0 0 1 475.18,364.11Q401.3,326.2 421.68,247.17Z" fill="#FFFF00"/>
<path d="M451.39,261.01A83.46,81.5 0 0 1 452.68,261.98Q401.3,326.2 476.69,361.15A83.46,81.5 0 0 1 475.95,362.64Q401.3,326.2 451.39,261.01Z" fill="#FFFF00"/>
<path d="M474.71,287.44A83.46,81.5 0 0 1 475.53,288.95Q401.3,326.2 477.4,359.65A83.46,81.5 0 0 1 476.69,361.15Q401.3,326.2 474.71,287.44Z" fill="#FFFF00"/>
<path d="M484.17,316.55A83.46,81.5 0 0 1 484.39,318.53Q401.3,326.2 478.09,358.13A83.46,81.5 0 0 1 477.4,359.65Q401.3,326.2 484.17,316.55Z" fill="#FFFF00"/>
<path d="M484.75,326.77A83.46,81.5 0 0 1 484.73,328.33Q401.3,326.2 478.73,356.6A83.46,81.5 0 0 1 478.09,358.13Q401.3,326.2 484.75,326.77Z" fill="#FFFF00"/>
<path d="M317.96,321.93A83.46,81.5 0 0 1 318.03,320.8Q401.3,326.2 361.78,397.98A83.46,81.5 0 0 1 360.33,397.2Q401.3,326.2 317.96,321.93Z" fill="#00EE00"/>
<path d="M318.49,316.08A83.46,81.5 0 0 1 318.96,312.89Q401.3,326.2 364.71,399.45A83.46,81.5 0 0 1 361.78,397.98Q401.3,326.2 318.49,316.08Z" fill="#00EE00"/>
<path d="M319.52,309.95A83.46,81.5 0 0 1 319.76,308.84Q401.3,326.2 366.2,400.14A83.46,81.5 0 0 1 364.71,399.45Q401.3,326.2 319.52,309.95Z" fill="#00EE00"/>
<path d="M321.53,302.24A83.46,81.5 0 0 1 322.06,300.61Q401.3,326.2 367.71,400.81A83.46,81.5 0 0 1 366.2,400.14Q401.3,326.2 321.53,302.24Z" fill="#00EE00"/>
<path d="M325.53,292.03A83.46,81.5 0 0 1 330.14,283.62Q401.3,326.2 376.99,404.16A83.46,81.5 0 0 1 367.71,400.81Q401.3,326.2 325.53,292.03Z" fill="#00EE00"/>
<path d="M330.84,282.53A83.46,81.5 0 0 1 331.55,281.45Q401.3,326.2 378.57,404.62A83.46,81.5 0 0 1 376.99,404.16Q401.3,326.2 330.84,282.53Z" fill="#00EE00"/>
<path d="M333.1,279.22A83.46,81.5 0 0 1 335.12,276.55Q401.3,326.2 381.76,405.43A83.46,81.5 0 0 1 378.57,404.62Q401.3,326.2 333.1,279.22Z" fill="#00EE00"/>
<path d="M337.89,273.22A83.46,81.5 0 0 1 339.72,271.19Q401.3,326.2 384.98,406.13A83.46,81.5 0 0 1 381.76,405.43Q401.3,326.2 337.89,273.22Z" fill="#00EE00"/>
<path d="M344.17,266.79A83.46,81.5 0 0 1 347.77,263.68Q401.3,326.2 389.86,406.93A83.46,81.5 0 0 1 384.98,406.13Q401.3,326.2 344.17,266.79Z" fill="#00EE00"/>
<path d="M360.6,255.05A83.46,81.5 0 0 1 379.6,247.5Q401.3,326.2 411.26,407.12A83.46,81.5 0 0 1 389.86,406.93Q401.3,326.2 360.6,255.05Z" fill="#00EE00"/>
<path d="M390.78,245.35A83.46,81.5 0 0 1 398.69,244.74Q401.3,326.2 419.39,405.76A83.46,81.5 0 0 1 411.26,407.12Q401.3,326.2 390.78,245.35Z" fill="#00EE00"/>
<path d="M403.63,244.73A83.46,81.5 0 0 1 405.23,244.79Q401.3,326.2 420.99,405.4A83.46,81.5 0 0 1 419.39,405.76Q401.3,326.2 403.63,244.73Z" fill="#00EE00"/>
<path d="M408.86,245.04A83.46,81.5 0 0 1 412.34,245.42Q401.3,326.2 424.18,404.58A83.46,81.5 0 0 1 420.99,405.4Q401.3,326.2 408.86,245.04Z" fill="#00EE00"/>
<path d="M420.17,246.81A83.46,81.5 0 0 1 421.68,247.17Q401.3,326.2 425.77,404.12A83.46,81.5 0 0 1 424.18,404.58Q401.3,326.2 420.17,246.81Z" fill="#00EE00"/>
<path d="M426.33,248.45A83.46,81.5 0 0 1 427.5,248.82Q401.3,326.2 427.34,403.63A83.46,81.5 0 0 1 425.77,404.12Q401.3,326.2 426.33,248.45Z" fill="#00EE00"/>
<path d="M431.34,250.16A83.46,81.5 0 0 1 431.89,250.37Q401.3,326.2 428.9,403.11A83.46,81.5 0 0 1 427.34,403.63Q401.3,326.2 431.34,250.16Z" fill="#00EE00"/>
<path d="M433.6,251.05A83.46,81.5 0 0 1 434.89,251.59Q401.3,326.2 430.45,402.57A83.46,81.5 0 0 1 428.9,403.11Q401.3,326.2 433.6,251.05Z" fill="#00EE00"/>
<path d="M440.4,254.2A83.46,81.5 0 0 1 451.39,261.01Q401.3,326.2 442.41,397.13A83.46,81.5 0 0 1 430.45,402.57Q401.3,326.2 440.4,254.2Z" fill="#00EE00"/>
<path d="M454.55,263.45A83.46,81.5 0 0 1 458,266.4Q401.3,326.2 446.64,394.62A83.46,81.5 0 0 1 442.41,397.13Q401.3,326.2 454.55,263.45Z" fill="#00EE00"/>
<path d="M460.83,269.08A83.46,81.5 0 0 1 463.03,271.35Q401.3,326.2 449.37,392.82A83.46,81.5 0 0 1 446.64,394.62Q401.3,326.2 460.83,269.08Z" fill="#00EE00"/>
<path d="M470.16,280.16A83.46,81.5 0 0 1 474.71,287.44Q401.3,326.2 455.87,387.86A83.46,81.5 0 0 1 449.37,392.82Q401.3,326.2 470.16,280.16Z" fill="#00EE00"/>
<path d="M478.15,294.42A83.46,81.5 0 0 1 478.79,295.93Q401.3,326.2 457.11,386.79A83.46,81.5 0 0 1 455.87,387.86Q401.3,326.2 478.15,294.42Z" fill="#00EE00"/>
<path d="M481.38,303.24A83.46,81.5 0 0 1 482.31,306.59Q401.3,326.2 459.52,384.59A83.46,81.5 0 0 1 457.11,386.79Q401.3,326.2 481.38,303.24Z" fill="#00EE00"/>
<path d="M483.45,311.84A83.46,81.5 0 0 1 483.94,314.86Q401.3,326.2 461.84,382.3A83.46,81.5 0 0 1 459.52,384.59Q401.3,326.2 483.45,311.84Z" fill="#00EE00"/>
<path d="M484.65,322.08A83.46,81.5 0 0 1 484.75,326.77Q401.3,326.2 465.14,378.7A83.46,81.5 0 0 1 461.84,382.3Q401.3,326.2 484.65,322.08Z" fill="#00EE00"/>
<path d="M318.3,317.68A83.46,81.5 0 0 1 318.49,316.08Q401.3,326.2 334.62,375.2A83.46,81.5 0 0 1 333.61,373.87Q401.3,326.2 318.3,317.68Z" fill="#0000FF"/>
<path d="M320.63,305.31A83.46,81.5 0 0 1 320.96,304.15Q401.3,326.2 335.65,376.52A83.46,81.5 0 0 1 334.62,375.2Q401.3,326.2 320.63,305.31Z" fill="#0000FF"/>
<path d="M323.62,296.41A83.46,81.5 0 0 1 325.53,292.03Q401.3,326.2 338.9,380.32A83.46,81.5 0 0 1 335.65,376.52Q401.3,326.2 323.62,296.41Z" fill="#0000FF"/>
<path d="M356.53,257.42A83.46,81.5 0 0 1 360.6,255.05Q401.3,326.2 342.39,383.92A83.46,81.5 0 0 1 338.9,380.32Q401.3,326.2 356.53,257.42Z" fill="#0000FF"/>
<path d="M387.64,245.8A83.46,81.5 0 0 1 390.78,245.35Q401.3,326.2 344.83,386.21A83.46,81.5 0 0 1 342.39,383.92Q401.3,326.2 387.64,245.8Z" fill="#0000FF"/>
<path d="M402.03,244.7A83.46,81.5 0 0 1 403.63,244.73Q401.3,326.2 346.09,387.32A83.46,81.5 0 0 1 344.83,386.21Q401.3,326.2 402.03,244.7Z" fill="#0000FF"/>
<path d="M428.88,249.28A83.46,81.5 0 0 1 430.39,249.81Q401.3,326.2 347.37,388.4A83.46,81.5 0 0 1 346.09,387.32Q401.3,326.2 428.88,249.28Z" fill="#0000FF"/>
<path d="M432.29,250.53A83.46,81.5 0 0 1 433.6,251.05Q401.3,326.2 348.67,389.45A83.46,81.5 0 0 1 347.37,388.4Q401.3,326.2 432.29,250.53Z" fill="#0000FF"/>
<path d="M437.49,252.76A83.46,81.5 0 0 1 440.4,254.2Q401.3,326.2 351.34,391.48A83.46,81.5 0 0 1 348.67,389.45Q401.3,326.2 437.49,252.76Z" fill="#0000FF"/>
<path d="M467.06,276.02A83.46,81.5 0 0 1 470.16,280.16Q401.3,326.2 355.5,394.33A83.46,81.5 0 0 1 351.34,391.48Q401.3,326.2 467.06,276.02Z" fill="#0000FF"/>
<path d="M477.48,292.92A83.46,81.5 0 0 1 478.15,294.42Q401.3,326.2 356.92,395.22A83.46,81.5 0 0 1 355.5,394.33Q401.3,326.2 477.48,292.92Z" fill="#0000FF"/>
<path d="M483.16,310.34A83.46,81.5 0 0 1 483.45,311.84Q401.3,326.2 358.36,396.09A83.46,81.5 0 0 1 356.92,395.22Q401.3,326.2 483.16,310.34Z" fill="#0000FF"/>
<path d="M484.55,320.51A83.46,81.5 0 0 1 484.65,322.08Q401.3,326.2 359.82,396.92A83.46,81.5 0 0 1 358.36,396.09Q401.3,326.2 484.55,320.51Z" fill="#0000FF"/>
<path d="M317.87,328.05A83.46,81.5 0 0 1 317.85,325.06Q401.3,326.2 320.04,344.76A83.46,81.5 0 0 1 319.43,342.03Q401.3,326.2 317.87,328.05Z" fill="#9900FF"/>
<path d="M317.91,323.07A83.46,81.5 0 0 1 317.96,321.93Q401.3,326.2 320.38,346.12A83.46,81.5 0 0 1 320.04,344.76Q401.3,326.2 317.91,323.07Z" fill="#9900FF"/>
<path d="M319.3,311.07A83.46,81.5 0 0 1 319.52,309.95Q401.3,326.2 320.74,347.48A83.46,81.5 0 0 1 320.38,346.12Q401.3,326.2 319.3,311.07Z" fill="#9900FF"/>
<path d="M320.32,306.48A83.46,81.5 0 0 1 320.63,305.31Q401.3,326.2 321.12,348.82A83.46,81.5 0 0 1 320.74,347.48Q401.3,326.2 320.32,306.48Z" fill="#9900FF"/>
<path d="M322.49,299.4A83.46,81.5 0 0 1 323.62,296.41Q401.3,326.2 321.97,351.5A83.46,81.5 0 0 1 321.12,348.82Q401.3,326.2 322.49,299.4Z" fill="#9900FF"/>
<path d="M337,274.25A83.46,81.5 0 0 1 337.89,273.22Q401.3,326.2 322.42,352.82A83.46,81.5 0 0 1 321.97,351.5Q401.3,326.2 337,274.25Z" fill="#9900FF"/>
<path d="M352.6,260.02A83.46,81.5 0 0 1 356.53,257.42Q401.3,326.2 323.93,356.75A83.46,81.5 0 0 1 322.42,352.82Q401.3,326.2 352.6,260.02Z" fill="#9900FF"/>
<path d="M384.52,246.36A83.46,81.5 0 0 1 387.64,245.8Q401.3,326.2 325.05,359.33A83.46,81.5 0 0 1 323.93,356.75Q401.3,326.2 384.52,246.36Z" fill="#9900FF"/>
<path d="M407.12,244.9A83.46,81.5 0 0 1 408.86,245.04Q401.3,326.2 325.64,360.6A83.46,81.5 0 0 1 325.05,359.33Q401.3,326.2 407.12,244.9Z" fill="#9900FF"/>
<path d="M418.65,246.48A83.46,81.5 0 0 1 420.17,246.81Q401.3,326.2 326.26,361.86A83.46,81.5 0 0 1 325.64,360.6Q401.3,326.2 418.65,246.48Z" fill="#9900FF"/>
<path d="M425.14,248.1A83.46,81.5 0 0 1 426.33,248.45Q401.3,326.2 326.9,363.12A83.46,81.5 0 0 1 326.26,361.86Q401.3,326.2 425.14,248.1Z" fill="#9900FF"/>
<path d="M453.37,262.51A83.46,81.5 0 0 1 454.55,263.45Q401.3,326.2 327.56,364.36A83.46,81.5 0 0 1 326.9,363.12Q401.3,326.2 453.37,262.51Z" fill="#9900FF"/>
<path d="M458.64,266.98A83.46,81.5 0 0 1 460.31,268.57Q401.3,326.2 328.24,365.59A83.46,81.5 0 0 1 327.56,364.36Q401.3,326.2 458.64,266.98Z" fill="#9900FF"/>
<path d="M463.71,272.09A83.46,81.5 0 0 1 467.06,276.02Q401.3,326.2 330.41,369.21A83.46,81.5 0 0 1 328.24,365.59Q401.3,326.2 463.71,272.09Z" fill="#9900FF"/>
<path d="M480.3,299.94A83.46,81.5 0 0 1 481.38,303.24Q401.3,326.2 331.96,371.56A83.46,81.5 0 0 1 330.41,369.21Q401.3,326.2 480.3,299.94Z" fill="#9900FF"/>
<path d="M482.84,308.84A83.46,81.5 0 0 1 483.16,310.34Q401.3,326.2 332.77,372.71A83.46,81.5 0 0 1 331.96,371.56Q401.3,326.2 482.84,308.84Z" fill="#9900FF"/>
</g>
<path d="M311.62,328.19A89.7,87.6 0 0 1 311.61,324.98L316.01,325.04A85.3,83.3 0 0 0 316.02,328.09Z" fill="#2020a0"/>
<path d="M311.66,322.84A89.7,87.6 0 0 1 311.79,320.39L316.19,320.68A85.3,83.3 0 0 0 316.06,323Z" fill="#505010"/>
<path d="M312.09,317.04A89.7,87.6 0 0 1 312.8,311.89L317.15,312.59A85.3,83.3 0 0 0 316.47,317.49Z" fill="#703030"/>
<path d="M313.16,309.94A89.7,87.6 0 0 1 313.66,307.54L317.96,308.45A85.3,83.3 0 0 0 317.48,310.73Z" fill="#807050"/>
<path d="M314.26,305.01A89.7,87.6 0 0 1 314.94,302.5L319.18,303.66A85.3,83.3 0 0 0 318.53,306.05Z" fill="#101050"/>
<path d="M315.56,300.44A89.7,87.6 0 0 1 316.13,298.69L320.31,300.04A85.3,83.3 0 0 0 319.77,301.71Z" fill="#d090b0"/>
<path d="M316.59,297.39A89.7,87.6 0 0 1 324.82,280.43L328.57,282.68A85.3,83.3 0 0 0 320.75,298.81Z" fill="#40a020"/>
<path d="M325.56,279.26A89.7,87.6 0 0 1 327.11,276.96L330.75,279.38A85.3,83.3 0 0 0 329.28,281.57Z" fill="#c04060"/>
<path d="M328,275.7A89.7,87.6 0 0 1 331.29,271.43L334.73,274.12A85.3,83.3 0 0 0 331.6,278.18Z" fill="#202020"/>
<path d="M332.18,270.36A89.7,87.6 0 0 1 336.12,266.01L339.32,268.97A85.3,83.3 0 0 0 335.58,273.1Z" fill="#906020"/>
<path d="M337.1,265.02A89.7,87.6 0 0 1 338.43,263.72L341.51,266.79A85.3,83.3 0 0 0 340.25,268.02Z" fill="#e0d040"/>
<path d="M339.89,262.34A89.7,87.6 0 0 1 346.44,256.89L349.14,260.29A85.3,83.3 0 0 0 342.91,265.48Z" fill="#c02030"/>
<path d="M348.95,255.06A89.7,87.6 0 0 1 381.27,240.81L382.26,245A85.3,83.3 0 0 0 351.52,258.55Z" fill="#a07a30"/>
<path d="M383.26,240.39A89.7,87.6 0 0 1 400.2,238.61L400.26,242.91A85.3,83.3 0 0 0 384.15,244.6Z" fill="#708878"/>
<path d="M402.08,238.6A89.7,87.6 0 0 1 405.53,238.7L405.32,242.99A85.3,83.3 0 0 0 402.04,242.9Z" fill="#101010"/>
<path d="M407.56,238.81A89.7,87.6 0 0 1 415.02,239.63L414.35,243.88A85.3,83.3 0 0 0 407.25,243.1Z" fill="#502090"/>
<path d="M416.41,239.85A89.7,87.6 0 0 1 417.65,240.07L416.84,244.29A85.3,83.3 0 0 0 415.67,244.09Z" fill="#f06060"/>
<path d="M419.95,240.51A89.7,87.6 0 0 1 424.82,241.66L423.66,245.81A85.3,83.3 0 0 0 419.03,244.72Z" fill="#101010"/>
<path d="M426.93,242.25A89.7,87.6 0 0 1 429.47,243.03L428.08,247.11A85.3,83.3 0 0 0 425.67,246.37Z" fill="#8090a0"/>
<path d="M430.95,243.52A89.7,87.6 0 0 1 432.57,244.09L431.03,248.12A85.3,83.3 0 0 0 429.49,247.58Z" fill="#101010"/>
<path d="M433.59,244.47A89.7,87.6 0 0 1 434.18,244.7L432.56,248.7A85.3,83.3 0 0 0 432.01,248.48Z" fill="#202020"/>
<path d="M434.61,244.86A89.7,87.6 0 0 1 438.78,246.61L436.94,250.52A85.3,83.3 0 0 0 432.98,248.86Z" fill="#101010"/>
<path d="M440.2,247.27A89.7,87.6 0 0 1 456.53,257.17L453.82,260.56A85.3,83.3 0 0 0 438.29,251.14Z" fill="#d0d060"/>
<path d="M457.26,257.74A89.7,87.6 0 0 1 462.25,261.93L459.26,265.08A85.3,83.3 0 0 0 454.52,261.1Z" fill="#101010"/>
<path d="M462.93,262.55A89.7,87.6 0 0 1 464.73,264.26L461.62,267.3A85.3,83.3 0 0 0 459.91,265.68Z" fill="#e040a0"/>
<path d="M465.28,264.8A89.7,87.6 0 0 1 467.65,267.24L464.39,270.14A85.3,83.3 0 0 0 462.14,267.81Z" fill="#8060b0"/>
<path d="M468.38,268.04A89.7,87.6 0 0 1 482.73,289.46L478.73,291.26A85.3,83.3 0 0 0 465.09,270.89Z" fill="#5050e0"/>
<path d="M483.18,290.43A89.7,87.6 0 0 1 485.86,296.96L481.71,298.39A85.3,83.3 0 0 0 479.16,292.19Z" fill="#402070"/>
<path d="M486.22,297.97A89.7,87.6 0 0 1 488.81,306.94L484.51,307.89A85.3,83.3 0 0 0 482.05,299.36Z" fill="#101010"/>
<path d="M488.94,307.54A89.7,87.6 0 0 1 490.13,314.01L485.77,314.61A85.3,83.3 0 0 0 484.64,308.45Z" fill="#8050a0"/>
<path d="M490.37,315.83A89.7,87.6 0 0 1 490.6,317.96L486.22,318.36A85.3,83.3 0 0 0 486,316.34Z" fill="#402010"/>
<path d="M490.78,320.09A89.7,87.6 0 0 1 490.97,328.49L486.57,328.38A85.3,83.3 0 0 0 486.39,320.39Z" fill="#301070"/>
<path d="M489.17,343.81A89.7,87.6 0 0 1 487.4,350.79L483.17,349.58A85.3,83.3 0 0 0 484.86,342.95Z" fill="#FF0000"/>
<path d="M486.9,352.4A89.7,87.6 0 0 1 485.32,356.88L481.2,355.37A85.3,83.3 0 0 0 482.7,351.11Z" fill="#FF9900"/>
<path d="M484.53,358.87A89.7,87.6 0 0 1 471.79,380.37L468.33,377.71A85.3,83.3 0 0 0 480.44,357.27Z" fill="#FFFF00"/>
<path d="M469.92,382.63A89.7,87.6 0 0 1 357.26,402.52L359.43,398.77A85.3,83.3 0 0 0 466.55,379.86Z" fill="#00EE00"/>
<path d="M356.72,402.22A89.7,87.6 0 0 1 328.55,377.44L332.12,374.93A85.3,83.3 0 0 0 358.91,398.48Z" fill="#0000FF"/>
<path d="M327.64,376.19A89.7,87.6 0 0 1 313.31,343.21L317.63,342.38A85.3,83.3 0 0 0 331.26,373.74Z" fill="#9900FF"/>
<path d="M311.42,328.19A89.91,87.8 0 0 1 311.4,324.97" fill="none" stroke="#333" stroke-width="0.45"/>
<text transform="translate(308.34,328.26) rotate(-91.3)" dy="1.1" text-anchor="middle" class="tk">0</text>
<path d="M311.46,322.83A89.91,87.8 0 0 1 311.59,320.38" fill="none" stroke="#333" stroke-width="0.45"/>
<text transform="translate(308.39,322.71) rotate(-87.8)" dy="1.1" text-anchor="middle" class="tk">0</text>
<path d="M311.89,317.02A89.91,87.8 0 0 1 312.6,311.86" fill="none" stroke="#333" stroke-width="0.45"/>
<text transform="translate(308.83,316.71) rotate(-84)" dy="1.1" text-anchor="middle" class="tk">0</text>
<path d="M312.96,309.9A89.91,87.8 0 0 1 313.46,307.5" fill="none" stroke="#333" stroke-width="0.45"/>
<text transform="translate(309.94,309.34) rotate(-79.3)" dy="1.1" text-anchor="middle" class="tk">0</text>
<path d="M314.06,304.96A89.91,87.8 0 0 1 314.75,302.44" fill="none" stroke="#333" stroke-width="0.45"/>
<text transform="translate(311.08,304.23) rotate(-76)" dy="1.1" text-anchor="middle" class="tk">0</text>
<path d="M315.37,300.38A89.91,87.8 0 0 1 315.94,298.63" fill="none" stroke="#333" stroke-width="0.45"/>
<text transform="translate(312.43,299.5) rotate(-72.9)" dy="1.1" text-anchor="middle" class="tk">0</text>
<path d="M316.39,297.33A89.91,87.8 0 0 1 324.64,280.32" fill="none" stroke="#333" stroke-width="0.45"/>
<text transform="translate(313.49,296.34) rotate(-70.8)" dy="1.1" text-anchor="middle" class="tk">0</text>
<text transform="translate(320.27,281.67) rotate(-60.63)" dy="1.1" text-anchor="middle" class="tk">9</text>
<path d="M325.39,279.15A89.91,87.8 0 0 1 326.94,276.85" fill="none" stroke="#333" stroke-width="0.45"/>
<text transform="translate(322.8,277.55) rotate(-57.6)" dy="1.1" text-anchor="middle" class="tk">0</text>
<path d="M327.83,275.59A89.91,87.8 0 0 1 331.13,271.3" fill="none" stroke="#333" stroke-width="0.45"/>
<text transform="translate(325.32,273.86) rotate(-54.8)" dy="1.1" text-anchor="middle" class="tk">0</text>
<path d="M332.03,270.23A89.91,87.8 0 0 1 335.98,265.87" fill="none" stroke="#333" stroke-width="0.45"/>
<text transform="translate(329.66,268.32) rotate(-50.4)" dy="1.1" text-anchor="middle" class="tk">0</text>
<path d="M336.95,264.88A89.91,87.8 0 0 1 338.28,263.58" fill="none" stroke="#333" stroke-width="0.45"/>
<text transform="translate(334.76,262.78) rotate(-45.7)" dy="1.1" text-anchor="middle" class="tk">0</text>
<path d="M339.75,262.2A89.91,87.8 0 0 1 346.32,256.73" fill="none" stroke="#333" stroke-width="0.45"/>
<text transform="translate(337.65,260.01) rotate(-43.2)" dy="1.1" text-anchor="middle" class="tk">0</text>
<path d="M348.84,254.9A89.91,87.8 0 0 1 381.23,240.62" fill="none" stroke="#333" stroke-width="0.45"/>
<text transform="translate(347.04,252.46) rotate(-35.7)" dy="1.1" text-anchor="middle" class="tk">0</text>
<text transform="translate(361.23,244.27) rotate(-25.53)" dy="1.1" text-anchor="middle" class="tk">9</text>
<text transform="translate(376.67,238.64) rotate(-15.36)" dy="1.1" text-anchor="middle" class="tk">18</text>
<path d="M383.22,240.19A89.91,87.8 0 0 1 400.2,238.41" fill="none" stroke="#333" stroke-width="0.45"/>
<text transform="translate(382.6,237.25) rotate(-11.6)" dy="1.1" text-anchor="middle" class="tk">0</text>
<text transform="translate(398.98,235.43) rotate(-1.43)" dy="1.1" text-anchor="middle" class="tk">9</text>
<path d="M402.08,238.4A89.91,87.8 0 0 1 405.54,238.5" fill="none" stroke="#333" stroke-width="0.45"/>
<text transform="translate(402.11,235.4) rotate(0.5)" dy="1.1" text-anchor="middle" class="tk">0</text>
<path d="M407.57,238.61A89.91,87.8 0 0 1 415.05,239.43" fill="none" stroke="#333" stroke-width="0.45"/>
<text transform="translate(407.79,235.62) rotate(4)" dy="1.1" text-anchor="middle" class="tk">0</text>
<path d="M416.45,239.66A89.91,87.8 0 0 1 417.68,239.87" fill="none" stroke="#333" stroke-width="0.45"/>
<text transform="translate(416.97,236.7) rotate(9.7)" dy="1.1" text-anchor="middle" class="tk">0</text>
<path d="M419.99,240.32A89.91,87.8 0 0 1 424.87,241.47" fill="none" stroke="#333" stroke-width="0.45"/>
<text transform="translate(420.63,237.38) rotate(12)" dy="1.1" text-anchor="middle" class="tk">0</text>
<path d="M426.99,242.06A89.91,87.8 0 0 1 429.53,242.84" fill="none" stroke="#333" stroke-width="0.45"/>
<text transform="translate(427.86,239.18) rotate(16.6)" dy="1.1" text-anchor="middle" class="tk">0</text>
<path d="M431.02,243.33A89.91,87.8 0 0 1 432.64,243.91" fill="none" stroke="#333" stroke-width="0.45"/>
<text transform="translate(432.03,240.5) rotate(19.3)" dy="1.1" text-anchor="middle" class="tk">0</text>
<path d="M433.67,244.29A89.91,87.8 0 0 1 434.25,244.51" fill="none" stroke="#333" stroke-width="0.45"/>
<text transform="translate(434.77,241.49) rotate(21.1)" dy="1.1" text-anchor="middle" class="tk">0</text>
<path d="M434.69,244.68A89.91,87.8 0 0 1 438.87,246.43" fill="none" stroke="#333" stroke-width="0.45"/>
<text transform="translate(435.83,241.89) rotate(21.8)" dy="1.1" text-anchor="middle" class="tk">0</text>
<path d="M440.29,247.09A89.91,87.8 0 0 1 456.65,257.01" fill="none" stroke="#333" stroke-width="0.45"/>
<text transform="translate(441.62,244.38) rotate(25.7)" dy="1.1" text-anchor="middle" class="tk">0</text>
<text transform="translate(455.78,252.62) rotate(35.87)" dy="1.1" text-anchor="middle" class="tk">9</text>
<path d="M457.39,257.58A89.91,87.8 0 0 1 462.39,261.78" fill="none" stroke="#333" stroke-width="0.45"/>
<text transform="translate(459.31,255.24) rotate(38.6)" dy="1.1" text-anchor="middle" class="tk">0</text>
<path d="M463.07,262.41A89.91,87.8 0 0 1 464.87,264.12" fill="none" stroke="#333" stroke-width="0.45"/>
<text transform="translate(465.18,260.23) rotate(43.4)" dy="1.1" text-anchor="middle" class="tk">0</text>
<path d="M465.43,264.66A89.91,87.8 0 0 1 467.8,267.11" fill="none" stroke="#333" stroke-width="0.45"/>
<text transform="translate(467.62,262.56) rotate(45.5)" dy="1.1" text-anchor="middle" class="tk">0</text>
<path d="M468.53,267.91A89.91,87.8 0 0 1 482.92,289.37" fill="none" stroke="#333" stroke-width="0.45"/>
<text transform="translate(470.83,265.92) rotate(48.4)" dy="1.1" text-anchor="middle" class="tk">0</text>
<text transform="translate(480.64,278.85) rotate(58.57)" dy="1.1" text-anchor="middle" class="tk">9</text>
<path d="M483.37,290.35A89.91,87.8 0 0 1 486.05,296.89" fill="none" stroke="#333" stroke-width="0.45"/>
<text transform="translate(486.17,289.12) rotate(65.9)" dy="1.1" text-anchor="middle" class="tk">0</text>
<path d="M486.41,297.91A89.91,87.8 0 0 1 489.01,306.9" fill="none" stroke="#333" stroke-width="0.45"/>
<text transform="translate(489.32,296.94) rotate(71.2)" dy="1.1" text-anchor="middle" class="tk">0</text>
<path d="M489.14,307.5A89.91,87.8 0 0 1 490.33,313.98" fill="none" stroke="#333" stroke-width="0.45"/>
<text transform="translate(492.14,306.86) rotate(77.7)" dy="1.1" text-anchor="middle" class="tk">0</text>
<path d="M490.57,315.8A89.91,87.8 0 0 1 490.81,317.94" fill="none" stroke="#333" stroke-width="0.45"/>
<text transform="translate(493.63,315.45) rotate(83.2)" dy="1.1" text-anchor="middle" class="tk">0</text>
<path d="M490.99,320.08A89.91,87.8 0 0 1 491.18,328.5" fill="none" stroke="#333" stroke-width="0.45"/>
<text transform="translate(494.05,319.87) rotate(86)" dy="1.1" text-anchor="middle" class="tk">0</text>
<path d="M489.37,343.85A89.91,87.8 0 0 1 487.59,350.84" fill="none" stroke="#333" stroke-width="0.45"/>
<text transform="translate(492.38,344.46) rotate(101.6)" dy="1.1" text-anchor="middle" class="tk">0</text>
<path d="M487.09,352.46A89.91,87.8 0 0 1 485.51,356.95" fill="none" stroke="#333" stroke-width="0.45"/>
<text transform="translate(490.02,353.35) rotate(107.4)" dy="1.1" text-anchor="middle" class="tk">0</text>
<path d="M484.72,358.95A89.91,87.8 0 0 1 471.95,380.5" fill="none" stroke="#333" stroke-width="0.45"/>
<text transform="translate(487.57,360.07) rotate(111.9)" dy="1.1" text-anchor="middle" class="tk">0</text>
<text transform="translate(480.09,374.41) rotate(122.07)" dy="1.1" text-anchor="middle" class="tk">9</text>
<path d="M470.07,382.75A89.91,87.8 0 0 1 357.16,402.69" fill="none" stroke="#333" stroke-width="0.45"/>
<text transform="translate(472.42,384.69) rotate(130.1)" dy="1.1" text-anchor="middle" class="tk">0</text>
<text transform="translate(460.73,396.03) rotate(140.27)" dy="1.1" text-anchor="middle" class="tk">9</text>
<text transform="translate(447.17,405.18) rotate(150.44)" dy="1.1" text-anchor="middle" class="tk">18</text>
<text transform="translate(432.17,411.85) rotate(160.61)" dy="1.1" text-anchor="middle" class="tk">27</text>
<text transform="translate(416.2,415.83) rotate(170.78)" dy="1.1" text-anchor="middle" class="tk">36</text>
<text transform="translate(399.76,416.99) rotate(180.95)" dy="1.1" text-anchor="middle" class="tk">45</text>
<text transform="translate(383.37,415.3) rotate(191.12)" dy="1.1" text-anchor="middle" class="tk">54</text>
<text transform="translate(367.54,410.8) rotate(201.29)" dy="1.1" text-anchor="middle" class="tk">63</text>
<path d="M356.62,402.39A89.91,87.8 0 0 1 328.38,377.56" fill="none" stroke="#333" stroke-width="0.45"/>
<text transform="translate(355.09,404.99) rotate(209.8)" dy="1.1" text-anchor="middle" class="tk">0</text>
<text transform="translate(341.57,395.79) rotate(219.97)" dy="1.1" text-anchor="middle" class="tk">9</text>
<text transform="translate(329.93,384.39) rotate(230.14)" dy="1.1" text-anchor="middle" class="tk">18</text>
<path d="M327.47,376.31A89.91,87.8 0 0 1 313.11,343.25" fill="none" stroke="#333" stroke-width="0.45"/>
<text transform="translate(324.95,378.02) rotate(235.2)" dy="1.1" text-anchor="middle" class="tk">0</text>
<text transform="translate(316.78,364.04) rotate(245.37)" dy="1.1" text-anchor="middle" class="tk">9</text>
<text transform="translate(311.27,348.87) rotate(255.54)" dy="1.1" text-anchor="middle" class="tk">18</text>
<path d="M311.42,328.19L309.98,328.22M311.39,326.46L310.57,326.46M311.41,324.73L310.59,324.72M311.46,322.83L310.03,322.78M311.54,321.1L310.73,321.05M311.89,317.02L310.46,316.88M312.09,315.3L311.28,315.2M312.33,313.59L311.51,313.47M312.6,311.88L311.79,311.74M312.96,309.9L311.55,309.64M313.3,308.2L312.5,308.04M314.06,304.96L312.67,304.62M314.51,303.28L313.72,303.07M315.37,300.38L314,299.97M315.91,298.73L315.13,298.48M316.39,297.33L315.04,296.87M316.99,295.7L316.23,295.42M317.63,294.08L316.86,293.79M318.29,292.47L317.53,292.17M318.99,290.88L318.24,290.56M319.72,289.3L318.97,288.97M320.48,287.74L319.74,287.39M321.27,286.19L320.54,285.82M322.09,284.66L321.37,284.28M322.95,283.14L321.7,282.45M323.83,281.64L323.13,281.23M324.75,280.15L324.05,279.74M325.39,279.15L324.18,278.4M326.35,277.7L325.67,277.26M327.83,275.59L326.66,274.78M328.87,274.18L328.21,273.71M329.93,272.8L329.28,272.31M331.03,271.44L330.39,270.94M332.03,270.23L330.92,269.34M333.17,268.91L332.55,268.39M334.34,267.61L333.73,267.08M335.54,266.33L334.94,265.79M336.95,264.88L335.93,263.9M338.2,263.65L337.63,263.08M339.75,262.2L338.77,261.18M341.06,261.02L340.51,260.43M342.39,259.88L341.85,259.27M343.74,258.75L343.21,258.14M345.11,257.66L344.6,257.03M346.51,256.59L346.01,255.96M348.84,254.9L348,253.76M350.29,253.9L349.82,253.24M351.76,252.93L351.3,252.27M353.24,251.99L352.81,251.32M354.75,251.08L354.33,250.4M356.28,250.2L355.87,249.51M357.82,249.35L357.43,248.65M359.38,248.53L359,247.82M360.96,247.73L360.59,247.02M362.55,246.97L361.93,245.71M364.16,246.24L363.82,245.51M365.78,245.54L365.46,244.81M367.42,244.87L367.11,244.13M369.07,244.24L368.77,243.49M370.73,243.63L370.45,242.88M372.4,243.06L372.14,242.3M374.08,242.52L373.84,241.76M375.78,242.01L375.55,241.24M377.49,241.54L377.11,240.19M379.2,241.09L379,240.32M380.92,240.68L380.74,239.91M383.22,240.19L382.93,238.82M384.96,239.86L384.81,239.08M386.71,239.56L386.58,238.77M388.46,239.3L388.34,238.51M390.22,239.07L390.12,238.28M391.98,238.87L391.9,238.08M393.75,238.71L393.68,237.91M395.51,238.58L395.46,237.78M397.28,238.49L397.25,237.69M399.06,238.43L399.02,237.03M402.08,238.4L402.1,237M403.86,238.44L403.88,237.64M405.63,238.5L405.67,237.7M407.57,238.61L407.67,237.22M409.34,238.75L409.41,237.95M411.1,238.92L411.19,238.13M412.86,239.13L412.97,238.34M414.62,239.37L414.74,238.58M416.45,239.66L416.69,238.28M419.99,240.32L420.29,238.95M421.72,240.7L421.91,239.92M423.45,241.11L423.65,240.33M425.16,241.55L425.38,240.78M426.99,242.06L427.4,240.72M428.68,242.57L428.93,241.81M431.02,243.33L431.49,242.01M432.68,243.92L432.97,243.17M433.67,244.29L434.18,242.98M434.69,244.68L435.22,243.38M436.33,245.34L436.65,244.6M437.95,246.03L438.29,245.3M440.29,247.09L440.91,245.82M441.88,247.85L442.25,247.14M443.45,248.65L443.84,247.94M445.01,249.48L445.41,248.78M446.55,250.33L446.96,249.64M448.08,251.22L448.5,250.54M449.58,252.13L450.02,251.46M451.07,253.08L451.52,252.41M452.53,254.05L453,253.39M453.98,255.05L454.82,253.92M455.41,256.08L455.9,255.44M456.81,257.14L457.32,256.51M457.39,257.58L458.29,256.49M458.77,258.68L459.29,258.06M460.12,259.8L460.65,259.19M461.45,260.94L462,260.35M463.07,262.41L464.06,261.39M464.35,263.61L464.92,263.04M465.43,264.66L466.45,263.68M466.66,265.91L467.25,265.36M467.86,267.18L468.47,266.64M468.53,267.91L469.6,266.98M469.7,269.21L470.32,268.69M470.83,270.54L471.47,270.03M471.94,271.89L472.59,271.4M473.03,273.26L473.68,272.78M474.08,274.65L474.75,274.18M475.11,276.07L475.78,275.61M476.11,277.5L476.79,277.05M477.08,278.95L477.77,278.52M478.02,280.42L479.24,279.69M478.93,281.9L479.63,281.5M479.8,283.41L480.52,283.02M480.65,284.93L481.38,284.55M481.47,286.46L482.2,286.1M482.26,288.01L483,287.67M483.01,289.58L483.76,289.25M483.37,290.35L484.68,289.78M484.08,291.94L484.83,291.62M484.75,293.54L485.51,293.24M485.4,295.15L486.16,294.87M486.01,296.78L486.78,296.51M486.41,297.91L487.77,297.45M486.97,299.55L487.75,299.31M487.49,301.2L488.27,300.98M487.97,302.87L488.76,302.66M488.43,304.54L489.22,304.35M488.85,306.23L489.65,306.04M489.14,307.5L490.54,307.2M489.5,309.19L490.31,309.04M489.83,310.89L490.64,310.75M490.12,312.6L490.93,312.48M490.57,315.8L492,315.64M490.77,317.53L491.58,317.45M490.99,320.08L492.42,319.98M491.09,321.8L491.91,321.76M491.17,323.53L491.98,323.51M491.2,325.27L492.02,325.26M491.2,327L492.02,327M491.17,328.73L491.99,328.75M489.37,343.85L490.78,344.14M489,345.55L489.8,345.72M488.59,347.23L489.38,347.42M488.15,348.91L488.94,349.12M487.67,350.58L488.46,350.8M487.09,352.46L488.46,352.87M486.55,354.1L487.32,354.36M485.97,355.74L486.74,356.01M484.72,358.95L486.05,359.47M484.04,360.55L484.8,360.86M483.33,362.14L484.08,362.46M482.59,363.71L483.33,364.05M481.82,365.27L482.55,365.62M481.01,366.81L481.74,367.18M480.18,368.34L480.9,368.72M479.31,369.85L480.02,370.25M478.41,371.34L479.12,371.75M477.49,372.82L478.7,373.56M476.53,374.28L477.22,374.71M475.55,375.72L476.22,376.17M474.53,377.14L475.2,377.6M473.49,378.54L474.15,379.01M472.42,379.92L473.07,380.41M470.07,382.75L471.17,383.66M468.92,384.07L469.53,384.59M467.73,385.36L468.34,385.9M466.53,386.63L467.12,387.18M465.29,387.87L465.88,388.43M464.04,389.09L464.61,389.66M462.75,390.29L463.31,390.87M461.45,391.46L462,392.05M460.12,392.6L460.65,393.21M458.77,393.72L459.68,394.8M457.39,394.82L457.9,395.44M455.99,395.88L456.49,396.52M454.58,396.92L455.06,397.57M453.14,397.94L453.61,398.59M451.68,398.92L452.14,399.58M450.2,399.88L450.65,400.55M448.7,400.8L449.14,401.48M447.19,401.7L447.61,402.39M445.65,402.57L446.36,403.79M444.1,403.41L444.49,404.11M442.54,404.22L442.91,404.93M440.95,405L441.31,405.72M439.35,405.75L439.7,406.47M437.74,406.47L438.07,407.2M436.11,407.15L436.43,407.89M434.47,407.81L434.77,408.55M432.82,408.43L433.1,409.18M431.15,409.02L431.62,410.34M429.47,409.58L429.73,410.34M427.78,410.11L428.02,410.87M426.08,410.6L426.31,411.37M424.37,411.06L424.58,411.83M422.65,411.49L422.85,412.26M420.93,411.88L421.11,412.66M419.19,412.24L419.36,413.03M417.45,412.57L417.6,413.36M415.71,412.87L415.94,414.25M413.95,413.13L414.07,413.92M412.19,413.35L412.29,414.15M410.43,413.55L410.52,414.34M408.67,413.7L408.73,414.5M406.9,413.83L406.95,414.63M405.13,413.92L405.16,414.72M403.36,413.98L403.37,414.78M401.58,414L401.59,414.8M399.81,413.99L399.79,415.39M398.04,413.94L398.01,414.74M396.27,413.86L396.22,414.66M394.5,413.75L394.43,414.55M392.73,413.6L392.65,414.4M390.97,413.42L390.87,414.21M389.21,413.2L389.1,413.99M387.45,412.95L387.33,413.74M385.7,412.67L385.56,413.46M383.96,412.35L383.68,413.73M382.22,412L382.05,412.78M380.49,411.62L380.31,412.4M378.77,411.2L378.57,411.97M377.06,410.75L376.84,411.52M375.36,410.27L375.12,411.03M373.67,409.75L373.41,410.51M371.98,409.2L371.72,409.96M370.31,408.62L370.03,409.37M368.66,408.01L368.14,409.31M367.01,407.36L366.7,408.1M365.38,406.69L365.05,407.42M363.76,405.98L363.42,406.71M362.16,405.24L361.8,405.96M360.57,404.47L360.2,405.19M358.99,403.67L358.61,404.38M357.44,402.84L357.04,403.54M356.62,402.39L355.91,403.6M355.09,401.51L354.67,402.2M353.58,400.61L353.14,401.29M352.08,399.68L351.63,400.35M350.61,398.71L350.15,399.37M349.15,397.72L348.68,398.38M347.72,396.71L347.23,397.35M346.31,395.66L345.81,396.29M344.91,394.59L344.4,395.21M343.54,393.49L342.62,394.56M342.2,392.36L341.66,392.97M340.87,391.21L340.32,391.8M339.57,390.04L339.01,390.62M338.29,388.83L337.72,389.4M337.04,387.61L336.46,388.17M335.81,386.36L335.22,386.91M334.61,385.09L334,385.62M333.44,383.79L332.82,384.32M332.29,382.47L331.19,383.37M331.16,381.13L330.52,381.63M330.07,379.77L329.42,380.26M329,378.39L328.34,378.86M327.47,376.31L326.3,377.11M326.48,374.88L325.79,375.32M325.51,373.43L324.82,373.86M324.57,371.96L323.87,372.37M323.66,370.47L322.95,370.87M322.78,368.97L322.06,369.36M321.93,367.45L321.21,367.82M321.11,365.91L320.38,366.27M320.33,364.36L319.59,364.71M319.57,362.79L318.27,363.37M318.85,361.21L318.1,361.53M318.16,359.62L317.4,359.92M317.5,358.01L316.74,358.3M316.87,356.39L316.1,356.66M316.28,354.76L315.51,355.02M315.72,353.11L314.94,353.36M315.19,351.46L314.41,351.69M314.7,349.8L313.91,350.01M314.24,348.12L312.85,348.47M313.82,346.44L313.02,346.63M313.42,344.75L312.62,344.92M313.07,343.06L312.26,343.21" stroke="#444" stroke-width="0.35" fill="none"/>
<text transform="translate(305.45,326.61) rotate(359.75) scale(0.94,1)" dy="4.5" text-anchor="end" class="cl">V1-2</text>
<text transform="translate(305.58,321.3) rotate(3) scale(0.94,1)" dy="4.5" text-anchor="end" class="cl">V1-3</text>
<text transform="translate(306.32,313.66) rotate(7.7) scale(0.94,1)" dy="4.5" text-anchor="end" class="cl">V1-8</text>
<text transform="translate(307.38,307.54) rotate(11.5) scale(0.94,1)" dy="4.5" text-anchor="end" class="cl">V1-18</text>
<text transform="translate(308.65,302.21) rotate(14.85) scale(0.94,1)" dy="4.5" text-anchor="end" class="cl">V1-46</text>
<text transform="translate(309.99,297.74) rotate(17.7) scale(0.94,1)" dy="4.5" text-anchor="end" class="cl">V2-5</text>
<text transform="translate(314.68,286.13) rotate(25.35) scale(0.94,1)" dy="4.5" text-anchor="end" class="cl">V3-7</text>
<text transform="translate(321.19,274.81) rotate(33.3) scale(0.94,1)" dy="4.5" text-anchor="end" class="cl">V3-9</text>
<text transform="translate(324.7,269.94) rotate(36.95) scale(0.94,1)" dy="4.5" text-anchor="end" class="cl">V3-11</text>
<text transform="translate(329.52,264.18) rotate(41.5) scale(0.94,1)" dy="4.5" text-anchor="end" class="cl">V3-15</text>
<text transform="translate(333.41,260.13) rotate(44.9) scale(0.94,1)" dy="4.5" text-anchor="end" class="cl">V3-20</text>
<text transform="translate(339.12,254.97) rotate(49.55) scale(0.94,1)" dy="4.5" text-anchor="end" class="cl">V3-21</text>
<text transform="translate(361.86,240.89) rotate(65.7) scale(0.94,1)" dy="4.5" text-anchor="end" class="cl">V3-23</text>
<text transform="translate(391.03,233.14) rotate(83.85) scale(0.94,1)" dy="4.5" text-anchor="end" class="cl">V3-30</text>
<text transform="translate(403.98,232.64) rotate(-88.4) scale(0.94,1)" dy="2.2" text-anchor="start" class="cl">V3-30-3</text>
<text transform="translate(411.98,233.18) rotate(-83.6) scale(0.94,1)" dy="2.2" text-anchor="start" class="cl">V3-33</text>
<text transform="translate(418.11,234.05) rotate(-79.9) scale(0.94,1)" dy="2.2" text-anchor="start" class="cl">V3-43</text>
<text transform="translate(423.84,235.22) rotate(-76.4) scale(0.94,1)" dy="2.2" text-anchor="start" class="cl">V3-48</text>
<text transform="translate(428.86,236.55) rotate(-73.29) scale(0.94,1)" dy="2.2" text-anchor="start" class="cl">V3-49</text>
<text transform="translate(432.84,237.81) rotate(-70.79) scale(0.94,1)" dy="2.2" text-anchor="start" class="cl">V3-53</text>
<text transform="translate(436.76,239.24) rotate(-68.29) scale(0.94,1)" dy="2.2" text-anchor="start" class="cl">V3-66</text>
<text transform="translate(440.61,240.83) rotate(-65.79) scale(0.94,1)" dy="2.2" text-anchor="start" class="cl">V3-73</text>
<text transform="translate(451.88,246.69) rotate(-58.15) scale(0.94,1)" dy="2.2" text-anchor="start" class="cl">V3-74</text>
<text transform="translate(463.8,255.24) rotate(-49.3) scale(0.94,1)" dy="2.2" text-anchor="start" class="cl">V4-4</text>
<text transform="translate(468.06,259.04) rotate(-45.85) scale(0.94,1)" dy="2.2" text-anchor="start" class="cl">V4-30-4</text>
<text transform="translate(471,261.95) rotate(-43.35) scale(0.94,1)" dy="2.2" text-anchor="start" class="cl">V4-31</text>
<text transform="translate(481.5,274.95) rotate(-33.2) scale(0.94,1)" dy="2.2" text-anchor="start" class="cl">V4-34</text>
<text transform="translate(490.29,291.44) rotate(-21.8) scale(0.94,1)" dy="2.2" text-anchor="start" class="cl">V4-39</text>
<text transform="translate(493.55,300.79) rotate(-15.75) scale(0.94,1)" dy="2.2" text-anchor="start" class="cl">V4-59</text>
<text transform="translate(495.65,309.71) rotate(-10.15) scale(0.94,1)" dy="2.2" text-anchor="start" class="cl">V4-61</text>
<text transform="translate(496.6,316.25) rotate(-6.1) scale(0.94,1)" dy="2.2" text-anchor="start" class="cl">V5-51</text>
<text transform="translate(497.12,324.16) rotate(-1.25) scale(0.94,1)" dy="2.2" text-anchor="start" class="cl">V6-1</text>
<text transform="translate(494.32,348.76) rotate(13.95) scale(0.94,1)" dy="-0.2999999999999998" text-anchor="start" class="cl">J1</text>
<text transform="translate(491.95,356.6) rotate(18.95) scale(0.94,1)" dy="-0.2999999999999998" text-anchor="start" class="cl">J2</text>
<text transform="translate(484.26,373.07) rotate(30.05) scale(0.94,1)" dy="-0.2999999999999998" text-anchor="start" class="cl">J3</text>
<text transform="translate(418.36,418.31) rotate(79.75) scale(0.94,1)" dy="-0.2999999999999998" text-anchor="start" class="cl">J4</text>
<text transform="translate(337.17,395.76) rotate(312) scale(0.94,1)" dy="6.0" text-anchor="end" class="cl">J5</text>
<text transform="translate(313.07,362.77) rotate(337) scale(0.94,1)" dy="6.0" text-anchor="end" class="cl">J6</text>
<text transform="translate(83.3,441.6) scale(0.70,1)" class="ct">IGHV and IGHD segments</text>
<text transform="translate(371.9,441.3) scale(0.715,1)" class="ct">IGHV and IGHJ segments</text>
<rect x="0" y="0" width="520" height="1" fill="#000"/><rect x="0" y="0" width="1" height="449" fill="#000"/><rect x="519" y="0" width="1" height="449" fill="#000"/><rect x="0" y="448" width="520" height="1" fill="#000"/>
</svg></body></html>
